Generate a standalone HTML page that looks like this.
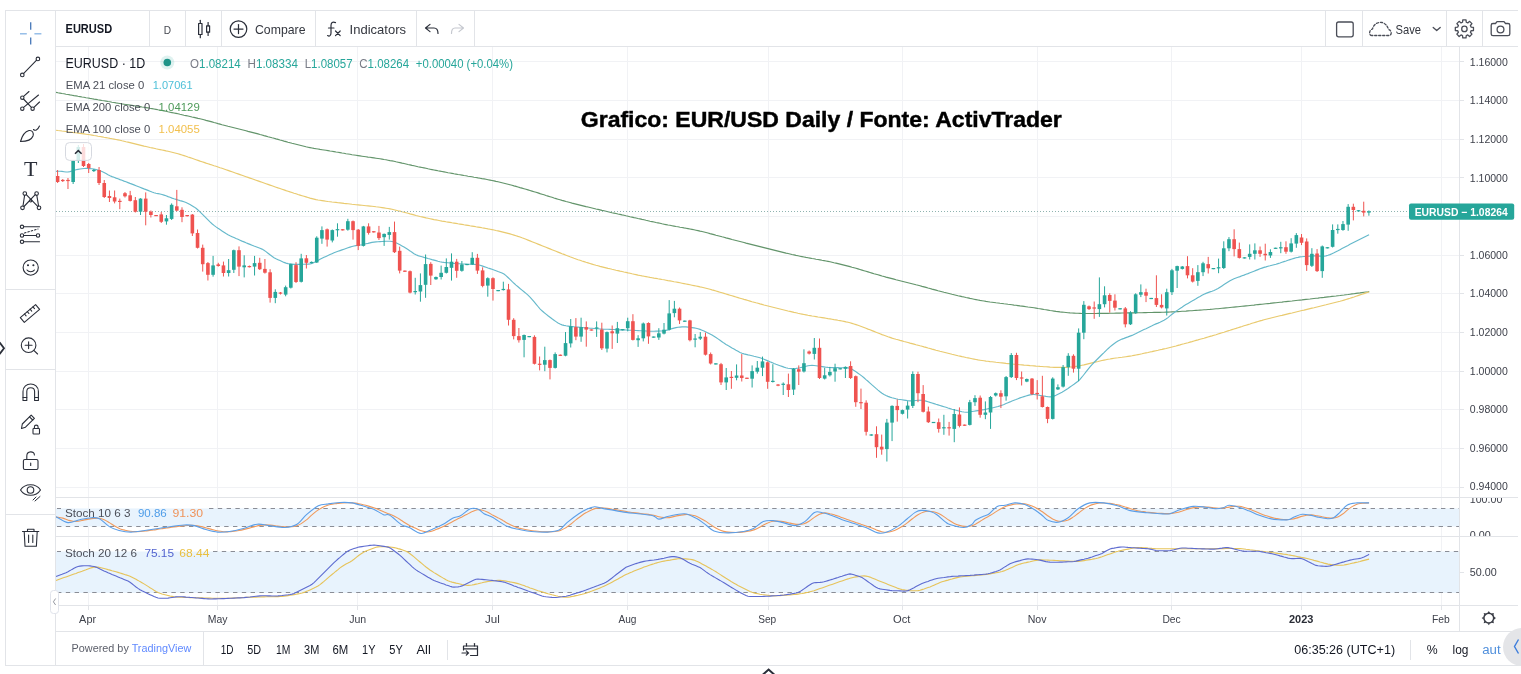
<!DOCTYPE html><html><head><meta charset="utf-8"><title>EURUSD chart</title>
<style>html,body{margin:0;padding:0;background:#fff;overflow:hidden;width:1521px;height:674px}svg{display:block}text{font-variant-ligatures:none;font-family:'Liberation Sans', Arial, sans-serif}</style></head><body>
<svg width="1521" height="674" viewBox="0 0 1521 674">
<rect x="0" y="0" width="1521" height="674" fill="#fff"/>
<g stroke="#f1f2f5" stroke-width="1">
<line x1="56" y1="61.5" x2="1459" y2="61.5"/>
<line x1="56" y1="100.5" x2="1459" y2="100.5"/>
<line x1="56" y1="139.5" x2="1459" y2="139.5"/>
<line x1="56" y1="177.5" x2="1459" y2="177.5"/>
<line x1="56" y1="216.5" x2="1459" y2="216.5"/>
<line x1="56" y1="255.5" x2="1459" y2="255.5"/>
<line x1="56" y1="293.5" x2="1459" y2="293.5"/>
<line x1="56" y1="332.5" x2="1459" y2="332.5"/>
<line x1="56" y1="371.5" x2="1459" y2="371.5"/>
<line x1="56" y1="409.5" x2="1459" y2="409.5"/>
<line x1="56" y1="448.5" x2="1459" y2="448.5"/>
<line x1="56" y1="487.5" x2="1459" y2="487.5"/>
<line x1="88.5" y1="47" x2="88.5" y2="605"/>
<line x1="217.5" y1="47" x2="217.5" y2="605"/>
<line x1="357.5" y1="47" x2="357.5" y2="605"/>
<line x1="492.5" y1="47" x2="492.5" y2="605"/>
<line x1="627.5" y1="47" x2="627.5" y2="605"/>
<line x1="768.5" y1="47" x2="768.5" y2="605"/>
<line x1="902.5" y1="47" x2="902.5" y2="605"/>
<line x1="1037.5" y1="47" x2="1037.5" y2="605"/>
<line x1="1171.5" y1="47" x2="1171.5" y2="605"/>
<line x1="1301.5" y1="47" x2="1301.5" y2="605"/>
<line x1="1441.5" y1="47" x2="1441.5" y2="605"/>
</g>
<rect x="56" y="508.4" width="1403" height="18.1" fill="#e8f3fd"/>
<rect x="56" y="551.5" width="1403" height="41.4" fill="#e8f3fd"/>
<g stroke="#8a8d96" stroke-width="1" stroke-dasharray="4.4,4.4">
<line x1="57" y1="508.5" x2="61" y2="508.5"/><line x1="209" y1="508.5" x2="1459" y2="508.5"/>
<line x1="57" y1="551.5" x2="61" y2="551.5"/><line x1="213" y1="551.5" x2="1459" y2="551.5"/>
<line x1="57" y1="526.5" x2="1459" y2="526.5"/>
<line x1="57" y1="592.5" x2="1459" y2="592.5"/>
</g>
<polyline points="56.0,92.4 58.0,92.8 60.0,93.1 62.0,93.5 64.0,93.8 66.0,94.2 68.0,94.5 70.0,94.9 72.0,95.2 74.0,95.6 76.0,95.9 78.0,96.3 80.0,96.6 82.0,97.0 84.0,97.3 86.0,97.7 88.0,98.0 90.0,98.4 92.0,98.7 94.0,99.1 96.0,99.4 98.0,99.8 100.0,100.1 102.0,100.5 104.0,100.8 106.0,101.1 108.0,101.5 110.0,101.8 112.0,102.2 114.0,102.5 116.0,102.9 118.0,103.2 120.0,103.5 122.0,103.9 124.0,104.2 126.0,104.5 128.0,104.8 130.0,105.1 132.0,105.4 134.0,105.7 136.0,106.0 138.0,106.3 140.0,106.6 142.0,107.0 144.0,107.3 146.0,107.6 148.0,107.9 150.0,108.3 152.0,108.6 154.0,109.0 156.0,109.4 158.0,109.8 160.0,110.1 162.0,110.5 164.0,110.9 166.0,111.3 168.0,111.8 170.0,112.2 172.0,112.6 174.0,113.0 176.0,113.4 178.0,113.8 180.0,114.3 182.0,114.7 184.0,115.2 186.0,115.6 188.0,116.0 190.0,116.5 192.0,117.0 194.0,117.4 196.0,117.9 198.0,118.4 200.0,118.8 202.0,119.3 204.0,119.8 206.0,120.4 208.0,120.9 210.0,121.4 212.0,121.9 214.0,122.5 216.0,123.0 218.0,123.6 220.0,124.1 222.0,124.7 224.0,125.2 226.0,125.7 228.0,126.3 230.0,126.8 232.0,127.3 234.0,127.8 236.0,128.3 238.0,128.8 240.0,129.3 242.0,129.8 244.0,130.3 246.0,130.8 248.0,131.4 250.0,131.9 252.0,132.4 254.0,132.9 256.0,133.4 258.0,133.9 260.0,134.5 262.0,135.0 264.0,135.6 266.0,136.1 268.0,136.7 270.0,137.2 272.0,137.8 274.0,138.3 276.0,138.9 278.0,139.4 280.0,140.0 282.0,140.5 284.0,141.1 286.0,141.6 288.0,142.2 290.0,142.7 292.0,143.3 294.0,143.8 296.0,144.3 298.0,144.8 300.0,145.3 302.0,145.8 304.0,146.3 306.0,146.8 308.0,147.2 310.0,147.6 312.0,148.0 314.0,148.4 316.0,148.7 318.0,149.0 320.0,149.4 322.0,149.7 324.0,150.0 326.0,150.3 328.0,150.6 330.0,151.0 332.0,151.3 334.0,151.6 336.0,152.0 338.0,152.3 340.0,152.6 342.0,153.0 344.0,153.3 346.0,153.7 348.0,154.0 350.0,154.3 352.0,154.7 354.0,155.0 356.0,155.3 358.0,155.6 360.0,155.9 362.0,156.2 364.0,156.5 366.0,156.8 368.0,157.1 370.0,157.3 372.0,157.6 374.0,157.9 376.0,158.2 378.0,158.5 380.0,158.8 382.0,159.1 384.0,159.5 386.0,159.8 388.0,160.2 390.0,160.6 392.0,160.9 394.0,161.3 396.0,161.8 398.0,162.2 400.0,162.6 402.0,163.1 404.0,163.5 406.0,164.0 408.0,164.5 410.0,164.9 412.0,165.4 414.0,165.8 416.0,166.2 418.0,166.7 420.0,167.1 422.0,167.5 424.0,167.9 426.0,168.3 428.0,168.8 430.0,169.2 432.0,169.6 434.0,170.0 436.0,170.4 438.0,170.8 440.0,171.1 442.0,171.5 444.0,171.9 446.0,172.3 448.0,172.7 450.0,173.0 452.0,173.4 454.0,173.8 456.0,174.1 458.0,174.5 460.0,174.8 462.0,175.1 464.0,175.5 466.0,175.8 468.0,176.2 470.0,176.5 472.0,176.8 474.0,177.2 476.0,177.5 478.0,177.9 480.0,178.2 482.0,178.6 484.0,178.9 486.0,179.3 488.0,179.7 490.0,180.1 492.0,180.5 494.0,180.9 496.0,181.4 498.0,181.8 500.0,182.3 502.0,182.8 504.0,183.3 506.0,183.8 508.0,184.3 510.0,184.8 512.0,185.3 514.0,185.9 516.0,186.4 518.0,187.0 520.0,187.6 522.0,188.1 524.0,188.7 526.0,189.3 528.0,189.9 530.0,190.5 532.0,191.1 534.0,191.7 536.0,192.3 538.0,192.9 540.0,193.6 542.0,194.2 544.0,194.8 546.0,195.5 548.0,196.1 550.0,196.7 552.0,197.3 554.0,198.0 556.0,198.6 558.0,199.2 560.0,199.8 562.0,200.4 564.0,200.9 566.0,201.5 568.0,202.0 570.0,202.5 572.0,203.1 574.0,203.6 576.0,204.1 578.0,204.6 580.0,205.1 582.0,205.6 584.0,206.1 586.0,206.6 588.0,207.0 590.0,207.5 592.0,208.0 594.0,208.5 596.0,209.0 598.0,209.4 600.0,209.9 602.0,210.4 604.0,210.8 606.0,211.3 608.0,211.8 610.0,212.2 612.0,212.7 614.0,213.1 616.0,213.5 618.0,214.0 620.0,214.4 622.0,214.9 624.0,215.3 626.0,215.8 628.0,216.2 630.0,216.7 632.0,217.1 634.0,217.6 636.0,218.0 638.0,218.5 640.0,218.9 642.0,219.4 644.0,219.8 646.0,220.3 648.0,220.7 650.0,221.2 652.0,221.6 654.0,222.0 656.0,222.5 658.0,222.9 660.0,223.3 662.0,223.8 664.0,224.2 666.0,224.6 668.0,225.0 670.0,225.3 672.0,225.7 674.0,226.1 676.0,226.5 678.0,226.8 680.0,227.2 682.0,227.5 684.0,227.9 686.0,228.2 688.0,228.6 690.0,229.0 692.0,229.4 694.0,229.8 696.0,230.2 698.0,230.6 700.0,231.1 702.0,231.5 704.0,232.0 706.0,232.5 708.0,233.0 710.0,233.6 712.0,234.1 714.0,234.6 716.0,235.2 718.0,235.7 720.0,236.2 722.0,236.8 724.0,237.3 726.0,237.9 728.0,238.4 730.0,238.9 732.0,239.5 734.0,240.0 736.0,240.5 738.0,241.0 740.0,241.5 742.0,242.0 744.0,242.5 746.0,243.1 748.0,243.6 750.0,244.1 752.0,244.6 754.0,245.1 756.0,245.6 758.0,246.1 760.0,246.6 762.0,247.1 764.0,247.6 766.0,248.1 768.0,248.6 770.0,249.1 772.0,249.6 774.0,250.1 776.0,250.6 778.0,251.1 780.0,251.6 782.0,252.1 784.0,252.6 786.0,253.1 788.0,253.5 790.0,254.0 792.0,254.5 794.0,254.9 796.0,255.4 798.0,255.8 800.0,256.2 802.0,256.6 804.0,257.0 806.0,257.4 808.0,257.7 810.0,258.1 812.0,258.5 814.0,258.8 816.0,259.2 818.0,259.5 820.0,259.9 822.0,260.3 824.0,260.6 826.0,261.0 828.0,261.4 830.0,261.8 832.0,262.2 834.0,262.7 836.0,263.1 838.0,263.6 840.0,264.1 842.0,264.6 844.0,265.1 846.0,265.6 848.0,266.1 850.0,266.6 852.0,267.2 854.0,267.7 856.0,268.3 858.0,268.9 860.0,269.5 862.0,270.1 864.0,270.7 866.0,271.3 868.0,271.9 870.0,272.5 872.0,273.1 874.0,273.7 876.0,274.2 878.0,274.8 880.0,275.4 882.0,276.0 884.0,276.5 886.0,277.1 888.0,277.6 890.0,278.1 892.0,278.6 894.0,279.1 896.0,279.7 898.0,280.2 900.0,280.7 902.0,281.2 904.0,281.7 906.0,282.2 908.0,282.7 910.0,283.2 912.0,283.7 914.0,284.2 916.0,284.8 918.0,285.3 920.0,285.8 922.0,286.4 924.0,286.9 926.0,287.4 928.0,288.0 930.0,288.5 932.0,289.1 934.0,289.6 936.0,290.1 938.0,290.7 940.0,291.2 942.0,291.7 944.0,292.3 946.0,292.8 948.0,293.3 950.0,293.8 952.0,294.3 954.0,294.7 956.0,295.2 958.0,295.7 960.0,296.1 962.0,296.6 964.0,297.0 966.0,297.5 968.0,297.9 970.0,298.4 972.0,298.8 974.0,299.2 976.0,299.6 978.0,300.0 980.0,300.4 982.0,300.7 984.0,301.0 986.0,301.4 988.0,301.7 990.0,302.0 992.0,302.2 994.0,302.5 996.0,302.8 998.0,303.0 1000.0,303.3 1002.0,303.5 1004.0,303.8 1006.0,304.0 1008.0,304.3 1010.0,304.5 1012.0,304.8 1014.0,305.1 1016.0,305.3 1018.0,305.6 1020.0,305.9 1022.0,306.1 1024.0,306.4 1026.0,306.7 1028.0,307.0 1030.0,307.2 1032.0,307.5 1034.0,307.8 1036.0,308.1 1038.0,308.5 1040.0,308.8 1042.0,309.1 1044.0,309.5 1046.0,309.8 1048.0,310.1 1050.0,310.5 1052.0,310.8 1054.0,311.1 1056.0,311.4 1058.0,311.6 1060.0,311.9 1062.0,312.1 1064.0,312.3 1066.0,312.5 1068.0,312.7 1070.0,312.9 1072.0,313.0 1074.0,313.1 1076.0,313.2 1078.0,313.3 1080.0,313.4 1082.0,313.5 1084.0,313.5 1086.0,313.5 1088.0,313.5 1090.0,313.5 1092.0,313.5 1094.0,313.5 1096.0,313.5 1098.0,313.4 1100.0,313.4 1102.0,313.4 1104.0,313.3 1106.0,313.3 1108.0,313.3 1110.0,313.2 1112.0,313.2 1114.0,313.2 1116.0,313.1 1118.0,313.1 1120.0,313.1 1122.0,313.0 1124.0,313.0 1126.0,313.0 1128.0,312.9 1130.0,312.9 1132.0,312.9 1134.0,312.8 1136.0,312.8 1138.0,312.7 1140.0,312.7 1142.0,312.7 1144.0,312.6 1146.0,312.6 1148.0,312.5 1150.0,312.5 1152.0,312.5 1154.0,312.4 1156.0,312.4 1158.0,312.3 1160.0,312.3 1162.0,312.2 1164.0,312.2 1166.0,312.1 1168.0,312.1 1170.0,312.0 1172.0,311.9 1174.0,311.8 1176.0,311.7 1178.0,311.6 1180.0,311.5 1182.0,311.3 1184.0,311.2 1186.0,311.1 1188.0,310.9 1190.0,310.8 1192.0,310.7 1194.0,310.5 1196.0,310.4 1198.0,310.3 1200.0,310.1 1202.0,310.0 1204.0,309.8 1206.0,309.7 1208.0,309.5 1210.0,309.4 1212.0,309.2 1214.0,309.0 1216.0,308.8 1218.0,308.7 1220.0,308.5 1222.0,308.3 1224.0,308.1 1226.0,307.9 1228.0,307.7 1230.0,307.5 1232.0,307.3 1234.0,307.1 1236.0,306.9 1238.0,306.7 1240.0,306.5 1242.0,306.3 1244.0,306.1 1246.0,305.9 1248.0,305.7 1250.0,305.5 1252.0,305.3 1254.0,305.1 1256.0,304.8 1258.0,304.6 1260.0,304.4 1262.0,304.2 1264.0,304.0 1266.0,303.8 1268.0,303.6 1270.0,303.4 1272.0,303.1 1274.0,302.9 1276.0,302.7 1278.0,302.5 1280.0,302.3 1282.0,302.1 1284.0,301.8 1286.0,301.6 1288.0,301.4 1290.0,301.2 1292.0,301.0 1294.0,300.7 1296.0,300.5 1298.0,300.3 1300.0,300.1 1302.0,299.9 1304.0,299.6 1306.0,299.4 1308.0,299.2 1310.0,299.0 1312.0,298.7 1314.0,298.5 1316.0,298.3 1318.0,298.1 1320.0,297.8 1322.0,297.6 1324.0,297.4 1326.0,297.1 1328.0,296.9 1330.0,296.7 1332.0,296.4 1334.0,296.2 1336.0,296.0 1338.0,295.7 1340.0,295.5 1342.0,295.2 1344.0,295.0 1346.0,294.7 1348.0,294.5 1350.0,294.2 1352.0,293.9 1354.0,293.7 1356.0,293.4 1358.0,293.1 1360.0,292.9 1362.0,292.6 1364.0,292.3 1366.0,292.0 1368.0,291.8 1369.2,291.6" fill="none" stroke="#62946a" stroke-width="1.15"/>
<polyline points="56.0,130.2 58.0,130.5 60.0,130.7 62.0,131.0 64.0,131.2 66.0,131.5 68.0,131.8 70.0,132.0 72.0,132.3 74.0,132.6 76.0,132.8 78.0,133.1 80.0,133.4 82.0,133.6 84.0,133.9 86.0,134.2 88.0,134.5 90.0,134.8 92.0,135.1 94.0,135.5 96.0,135.8 98.0,136.2 100.0,136.5 102.0,136.9 104.0,137.3 106.0,137.6 108.0,138.0 110.0,138.4 112.0,138.7 114.0,139.1 116.0,139.5 118.0,139.9 120.0,140.3 122.0,140.8 124.0,141.2 126.0,141.7 128.0,142.1 130.0,142.6 132.0,143.1 134.0,143.6 136.0,144.1 138.0,144.6 140.0,145.1 142.0,145.6 144.0,146.1 146.0,146.5 148.0,147.0 150.0,147.5 152.0,147.9 154.0,148.3 156.0,148.8 158.0,149.2 160.0,149.6 162.0,150.0 164.0,150.4 166.0,150.9 168.0,151.3 170.0,151.7 172.0,152.2 174.0,152.7 176.0,153.2 178.0,153.8 180.0,154.4 182.0,155.0 184.0,155.6 186.0,156.3 188.0,157.0 190.0,157.6 192.0,158.3 194.0,159.0 196.0,159.7 198.0,160.4 200.0,161.1 202.0,161.7 204.0,162.4 206.0,163.1 208.0,163.7 210.0,164.4 212.0,165.0 214.0,165.7 216.0,166.3 218.0,167.0 220.0,167.7 222.0,168.3 224.0,169.0 226.0,169.7 228.0,170.4 230.0,171.1 232.0,171.8 234.0,172.5 236.0,173.2 238.0,173.9 240.0,174.6 242.0,175.3 244.0,176.0 246.0,176.7 248.0,177.4 250.0,178.1 252.0,178.8 254.0,179.5 256.0,180.2 258.0,180.9 260.0,181.6 262.0,182.3 264.0,183.0 266.0,183.7 268.0,184.4 270.0,185.1 272.0,185.8 274.0,186.5 276.0,187.2 278.0,187.9 280.0,188.5 282.0,189.2 284.0,189.9 286.0,190.6 288.0,191.2 290.0,191.9 292.0,192.5 294.0,193.2 296.0,193.8 298.0,194.5 300.0,195.1 302.0,195.7 304.0,196.3 306.0,196.9 308.0,197.5 310.0,198.1 312.0,198.6 314.0,199.1 316.0,199.6 318.0,200.0 320.0,200.3 322.0,200.6 324.0,200.9 326.0,201.2 328.0,201.5 330.0,201.7 332.0,202.0 334.0,202.2 336.0,202.4 338.0,202.7 340.0,202.9 342.0,203.1 344.0,203.4 346.0,203.6 348.0,203.8 350.0,204.0 352.0,204.3 354.0,204.5 356.0,204.7 358.0,204.9 360.0,205.1 362.0,205.3 364.0,205.5 366.0,205.7 368.0,205.9 370.0,206.1 372.0,206.3 374.0,206.5 376.0,206.8 378.0,207.0 380.0,207.3 382.0,207.6 384.0,207.9 386.0,208.2 388.0,208.5 390.0,208.9 392.0,209.3 394.0,209.7 396.0,210.2 398.0,210.7 400.0,211.1 402.0,211.7 404.0,212.2 406.0,212.7 408.0,213.3 410.0,213.9 412.0,214.4 414.0,214.9 416.0,215.5 418.0,216.0 420.0,216.5 422.0,216.9 424.0,217.4 426.0,217.9 428.0,218.3 430.0,218.7 432.0,219.1 434.0,219.6 436.0,219.9 438.0,220.3 440.0,220.7 442.0,221.1 444.0,221.4 446.0,221.8 448.0,222.1 450.0,222.4 452.0,222.8 454.0,223.1 456.0,223.4 458.0,223.8 460.0,224.1 462.0,224.4 464.0,224.8 466.0,225.1 468.0,225.4 470.0,225.8 472.0,226.1 474.0,226.4 476.0,226.8 478.0,227.1 480.0,227.4 482.0,227.8 484.0,228.1 486.0,228.5 488.0,228.9 490.0,229.2 492.0,229.6 494.0,230.0 496.0,230.5 498.0,230.9 500.0,231.4 502.0,231.9 504.0,232.4 506.0,232.9 508.0,233.4 510.0,233.9 512.0,234.5 514.0,235.1 516.0,235.7 518.0,236.4 520.0,237.0 522.0,237.8 524.0,238.5 526.0,239.3 528.0,240.1 530.0,240.9 532.0,241.7 534.0,242.5 536.0,243.3 538.0,244.1 540.0,244.9 542.0,245.7 544.0,246.5 546.0,247.3 548.0,248.1 550.0,248.9 552.0,249.7 554.0,250.5 556.0,251.3 558.0,252.1 560.0,252.9 562.0,253.7 564.0,254.4 566.0,255.2 568.0,256.0 570.0,256.8 572.0,257.5 574.0,258.3 576.0,259.0 578.0,259.7 580.0,260.3 582.0,261.0 584.0,261.6 586.0,262.3 588.0,262.9 590.0,263.5 592.0,264.1 594.0,264.7 596.0,265.3 598.0,265.8 600.0,266.4 602.0,266.9 604.0,267.4 606.0,267.9 608.0,268.4 610.0,268.8 612.0,269.3 614.0,269.7 616.0,270.2 618.0,270.6 620.0,271.1 622.0,271.5 624.0,272.0 626.0,272.4 628.0,272.9 630.0,273.3 632.0,273.8 634.0,274.2 636.0,274.6 638.0,275.1 640.0,275.5 642.0,275.9 644.0,276.2 646.0,276.6 648.0,277.0 650.0,277.4 652.0,277.7 654.0,278.1 656.0,278.4 658.0,278.8 660.0,279.1 662.0,279.5 664.0,279.8 666.0,280.2 668.0,280.6 670.0,280.9 672.0,281.3 674.0,281.7 676.0,282.0 678.0,282.4 680.0,282.8 682.0,283.2 684.0,283.6 686.0,284.0 688.0,284.4 690.0,284.8 692.0,285.2 694.0,285.6 696.0,286.0 698.0,286.4 700.0,286.9 702.0,287.3 704.0,287.8 706.0,288.3 708.0,288.8 710.0,289.3 712.0,289.9 714.0,290.4 716.0,291.0 718.0,291.6 720.0,292.2 722.0,292.8 724.0,293.4 726.0,294.0 728.0,294.6 730.0,295.2 732.0,295.8 734.0,296.4 736.0,297.0 738.0,297.6 740.0,298.2 742.0,298.8 744.0,299.4 746.0,299.9 748.0,300.5 750.0,301.1 752.0,301.7 754.0,302.2 756.0,302.8 758.0,303.3 760.0,303.9 762.0,304.4 764.0,305.0 766.0,305.5 768.0,306.0 770.0,306.5 772.0,307.0 774.0,307.5 776.0,308.0 778.0,308.5 780.0,309.0 782.0,309.5 784.0,310.0 786.0,310.5 788.0,311.0 790.0,311.4 792.0,311.9 794.0,312.4 796.0,312.8 798.0,313.3 800.0,313.7 802.0,314.1 804.0,314.5 806.0,314.9 808.0,315.3 810.0,315.6 812.0,316.0 814.0,316.3 816.0,316.6 818.0,317.0 820.0,317.3 822.0,317.6 824.0,317.9 826.0,318.2 828.0,318.6 830.0,318.9 832.0,319.2 834.0,319.6 836.0,319.9 838.0,320.3 840.0,320.6 842.0,321.0 844.0,321.4 846.0,321.9 848.0,322.3 850.0,322.8 852.0,323.4 854.0,324.0 856.0,324.6 858.0,325.3 860.0,326.0 862.0,326.7 864.0,327.5 866.0,328.3 868.0,329.1 870.0,329.8 872.0,330.6 874.0,331.4 876.0,332.2 878.0,333.0 880.0,333.8 882.0,334.6 884.0,335.3 886.0,336.0 888.0,336.8 890.0,337.4 892.0,338.1 894.0,338.7 896.0,339.3 898.0,339.8 900.0,340.4 902.0,340.9 904.0,341.5 906.0,342.0 908.0,342.5 910.0,343.1 912.0,343.6 914.0,344.1 916.0,344.7 918.0,345.2 920.0,345.8 922.0,346.3 924.0,346.9 926.0,347.4 928.0,348.0 930.0,348.5 932.0,349.1 934.0,349.6 936.0,350.2 938.0,350.7 940.0,351.3 942.0,351.8 944.0,352.3 946.0,352.8 948.0,353.3 950.0,353.8 952.0,354.3 954.0,354.7 956.0,355.2 958.0,355.7 960.0,356.1 962.0,356.6 964.0,357.0 966.0,357.5 968.0,357.9 970.0,358.3 972.0,358.7 974.0,359.1 976.0,359.5 978.0,359.9 980.0,360.2 982.0,360.5 984.0,360.8 986.0,361.1 988.0,361.3 990.0,361.6 992.0,361.8 994.0,362.0 996.0,362.3 998.0,362.5 1000.0,362.7 1002.0,362.9 1004.0,363.1 1006.0,363.4 1008.0,363.6 1010.0,363.8 1012.0,364.0 1014.0,364.2 1016.0,364.4 1018.0,364.5 1020.0,364.7 1022.0,364.9 1024.0,365.1 1026.0,365.2 1028.0,365.4 1030.0,365.6 1032.0,365.7 1034.0,365.9 1036.0,366.1 1038.0,366.2 1040.0,366.4 1042.0,366.5 1044.0,366.7 1046.0,366.8 1048.0,366.9 1050.0,367.1 1052.0,367.2 1054.0,367.3 1056.0,367.3 1058.0,367.4 1060.0,367.4 1062.0,367.4 1064.0,367.3 1066.0,367.3 1068.0,367.2 1070.0,367.0 1072.0,366.9 1074.0,366.7 1076.0,366.4 1078.0,366.1 1080.0,365.7 1082.0,365.3 1084.0,364.9 1086.0,364.4 1088.0,363.9 1090.0,363.4 1092.0,362.9 1094.0,362.4 1096.0,361.9 1098.0,361.5 1100.0,361.0 1102.0,360.5 1104.0,360.1 1106.0,359.7 1108.0,359.3 1110.0,359.0 1112.0,358.6 1114.0,358.3 1116.0,358.0 1118.0,357.8 1120.0,357.5 1122.0,357.3 1124.0,357.0 1126.0,356.7 1128.0,356.4 1130.0,356.1 1132.0,355.8 1134.0,355.4 1136.0,355.0 1138.0,354.6 1140.0,354.2 1142.0,353.8 1144.0,353.3 1146.0,352.9 1148.0,352.5 1150.0,352.0 1152.0,351.6 1154.0,351.1 1156.0,350.7 1158.0,350.3 1160.0,349.8 1162.0,349.4 1164.0,348.9 1166.0,348.5 1168.0,348.0 1170.0,347.5 1172.0,347.0 1174.0,346.5 1176.0,346.0 1178.0,345.4 1180.0,344.9 1182.0,344.3 1184.0,343.8 1186.0,343.2 1188.0,342.7 1190.0,342.1 1192.0,341.6 1194.0,341.0 1196.0,340.4 1198.0,339.9 1200.0,339.3 1202.0,338.7 1204.0,338.2 1206.0,337.6 1208.0,337.0 1210.0,336.4 1212.0,335.9 1214.0,335.3 1216.0,334.7 1218.0,334.0 1220.0,333.4 1222.0,332.8 1224.0,332.2 1226.0,331.5 1228.0,330.9 1230.0,330.3 1232.0,329.6 1234.0,329.0 1236.0,328.4 1238.0,327.7 1240.0,327.1 1242.0,326.5 1244.0,325.8 1246.0,325.2 1248.0,324.6 1250.0,324.0 1252.0,323.3 1254.0,322.7 1256.0,322.1 1258.0,321.5 1260.0,320.9 1262.0,320.4 1264.0,319.8 1266.0,319.3 1268.0,318.8 1270.0,318.3 1272.0,317.8 1274.0,317.3 1276.0,316.8 1278.0,316.3 1280.0,315.8 1282.0,315.4 1284.0,314.9 1286.0,314.4 1288.0,313.9 1290.0,313.4 1292.0,313.0 1294.0,312.5 1296.0,312.0 1298.0,311.5 1300.0,311.0 1302.0,310.5 1304.0,310.1 1306.0,309.6 1308.0,309.1 1310.0,308.6 1312.0,308.1 1314.0,307.7 1316.0,307.2 1318.0,306.7 1320.0,306.2 1322.0,305.7 1324.0,305.2 1326.0,304.8 1328.0,304.3 1330.0,303.8 1332.0,303.3 1334.0,302.8 1336.0,302.3 1338.0,301.8 1340.0,301.3 1342.0,300.7 1344.0,300.1 1346.0,299.5 1348.0,298.9 1350.0,298.3 1352.0,297.6 1354.0,297.0 1356.0,296.3 1358.0,295.6 1360.0,294.9 1362.0,294.3 1364.0,293.6 1366.0,292.9 1368.0,292.2 1369.2,291.8" fill="none" stroke="#e9ca6e" stroke-width="1.15"/>
<polyline points="56.0,171.4 58.0,171.2 60.0,171.2 62.0,171.4 64.0,171.7 66.0,172.0 68.0,172.0 70.0,171.6 72.0,171.0 74.0,170.4 76.0,169.8 78.0,169.4 80.0,169.0 82.0,168.7 84.0,168.5 86.0,168.4 88.0,168.5 90.0,168.6 92.0,168.8 94.0,169.1 96.0,169.5 98.0,170.1 100.0,170.7 102.0,171.5 104.0,172.4 106.0,173.5 108.0,174.7 110.0,175.7 112.0,176.6 114.0,177.3 116.0,178.1 118.0,178.8 120.0,179.6 122.0,180.3 124.0,181.1 126.0,181.8 128.0,182.6 130.0,183.4 132.0,184.1 134.0,184.9 136.0,185.7 138.0,186.5 140.0,187.3 142.0,188.1 144.0,188.9 146.0,189.6 148.0,190.4 150.0,191.2 152.0,192.0 154.0,192.7 156.0,193.2 158.0,193.6 160.0,194.0 162.0,194.5 164.0,195.1 166.0,195.8 168.0,196.6 170.0,197.3 172.0,198.1 174.0,198.8 176.0,199.4 178.0,200.0 180.0,200.6 182.0,201.1 184.0,201.8 186.0,202.5 188.0,203.4 190.0,204.5 192.0,205.7 194.0,206.9 196.0,208.3 198.0,210.0 200.0,211.9 202.0,213.9 204.0,215.9 206.0,217.9 208.0,219.9 210.0,221.9 212.0,223.7 214.0,225.4 216.0,226.9 218.0,228.3 220.0,229.6 222.0,230.9 224.0,232.2 226.0,233.5 228.0,234.7 230.0,235.8 232.0,236.7 234.0,237.6 236.0,238.5 238.0,239.3 240.0,240.2 242.0,241.1 244.0,241.9 246.0,242.8 248.0,243.6 250.0,244.4 252.0,245.2 254.0,246.0 256.0,246.7 258.0,247.5 260.0,248.3 262.0,249.1 264.0,250.2 266.0,251.6 268.0,253.2 270.0,254.8 272.0,256.3 274.0,257.7 276.0,258.8 278.0,259.7 280.0,260.6 282.0,261.5 284.0,262.4 286.0,263.1 288.0,263.6 290.0,263.9 292.0,264.1 294.0,264.3 296.0,264.3 298.0,264.3 300.0,264.3 302.0,264.2 304.0,264.2 306.0,264.1 308.0,264.1 310.0,263.9 312.0,263.5 314.0,262.6 316.0,261.5 318.0,260.4 320.0,259.3 322.0,258.3 324.0,257.3 326.0,256.4 328.0,255.5 330.0,254.6 332.0,253.7 334.0,252.8 336.0,252.0 338.0,251.3 340.0,250.6 342.0,249.9 344.0,249.2 346.0,248.5 348.0,247.8 350.0,247.1 352.0,246.5 354.0,246.0 356.0,245.6 358.0,245.3 360.0,245.0 362.0,244.7 364.0,244.3 366.0,243.8 368.0,243.4 370.0,242.9 372.0,242.4 374.0,242.1 376.0,241.9 378.0,241.7 380.0,241.6 382.0,241.5 384.0,241.4 386.0,241.3 388.0,241.2 390.0,241.2 392.0,241.5 394.0,242.0 396.0,242.7 398.0,243.7 400.0,244.8 402.0,245.9 404.0,247.1 406.0,248.3 408.0,249.6 410.0,250.9 412.0,252.3 414.0,253.7 416.0,254.8 418.0,255.6 420.0,256.2 422.0,256.8 424.0,257.4 426.0,257.9 428.0,258.5 430.0,259.0 432.0,259.6 434.0,260.1 436.0,260.6 438.0,261.2 440.0,261.7 442.0,262.1 444.0,262.4 446.0,262.6 448.0,262.8 450.0,263.0 452.0,263.2 454.0,263.4 456.0,263.5 458.0,263.7 460.0,263.8 462.0,264.0 464.0,264.0 466.0,264.1 468.0,264.2 470.0,264.2 472.0,264.3 474.0,264.4 476.0,264.5 478.0,264.8 480.0,265.3 482.0,265.9 484.0,266.6 486.0,267.3 488.0,268.0 490.0,268.6 492.0,269.3 494.0,270.0 496.0,270.7 498.0,271.5 500.0,272.2 502.0,273.0 504.0,274.1 506.0,275.6 508.0,277.5 510.0,279.4 512.0,281.4 514.0,283.3 516.0,285.1 518.0,286.8 520.0,288.5 522.0,290.1 524.0,291.7 526.0,293.4 528.0,295.1 530.0,297.1 532.0,299.3 534.0,301.7 536.0,304.1 538.0,306.5 540.0,308.8 542.0,310.8 544.0,312.5 546.0,314.1 548.0,315.7 550.0,317.2 552.0,318.8 554.0,320.2 556.0,321.6 558.0,323.0 560.0,324.1 562.0,324.9 564.0,325.4 566.0,325.8 568.0,326.1 570.0,326.4 572.0,326.6 574.0,326.8 576.0,327.0 578.0,327.1 580.0,327.3 582.0,327.5 584.0,327.7 586.0,327.9 588.0,328.0 590.0,328.2 592.0,328.3 594.0,328.5 596.0,328.7 598.0,328.8 600.0,329.0 602.0,329.1 604.0,329.2 606.0,329.2 608.0,329.3 610.0,329.4 612.0,329.5 614.0,329.5 616.0,329.6 618.0,329.7 620.0,329.8 622.0,329.8 624.0,329.9 626.0,330.0 628.0,330.1 630.0,330.2 632.0,330.3 634.0,330.4 636.0,330.5 638.0,330.6 640.0,330.7 642.0,330.8 644.0,330.9 646.0,331.0 648.0,331.1 650.0,331.2 652.0,331.2 654.0,331.2 656.0,331.1 658.0,331.1 660.0,331.0 662.0,330.9 664.0,330.7 666.0,330.4 668.0,329.9 670.0,329.3 672.0,328.6 674.0,328.1 676.0,327.6 678.0,327.3 680.0,327.1 682.0,326.9 684.0,326.8 686.0,326.9 688.0,327.1 690.0,327.4 692.0,327.6 694.0,327.9 696.0,328.3 698.0,328.8 700.0,329.4 702.0,330.2 704.0,331.0 706.0,331.9 708.0,332.9 710.0,333.9 712.0,335.0 714.0,336.2 716.0,337.5 718.0,338.9 720.0,340.3 722.0,341.7 724.0,343.1 726.0,344.4 728.0,345.6 730.0,346.7 732.0,347.9 734.0,349.0 736.0,350.2 738.0,351.3 740.0,352.4 742.0,353.3 744.0,353.9 746.0,354.4 748.0,354.9 750.0,355.3 752.0,355.8 754.0,356.3 756.0,356.7 758.0,357.2 760.0,357.8 762.0,358.5 764.0,359.3 766.0,360.1 768.0,360.9 770.0,361.8 772.0,362.6 774.0,363.5 776.0,364.3 778.0,365.0 780.0,365.7 782.0,366.4 784.0,367.1 786.0,367.7 788.0,368.2 790.0,368.5 792.0,368.6 794.0,368.6 796.0,368.4 798.0,368.1 800.0,367.7 802.0,367.2 804.0,366.7 806.0,366.3 808.0,365.8 810.0,365.5 812.0,365.3 814.0,365.5 816.0,365.7 818.0,366.0 820.0,366.3 822.0,366.6 824.0,366.9 826.0,367.2 828.0,367.4 830.0,367.5 832.0,367.6 834.0,367.6 836.0,367.6 838.0,367.6 840.0,367.7 842.0,367.7 844.0,367.7 846.0,367.8 848.0,367.9 850.0,368.3 852.0,369.2 854.0,370.5 856.0,371.8 858.0,373.2 860.0,374.6 862.0,376.1 864.0,377.8 866.0,379.6 868.0,381.3 870.0,383.1 872.0,384.9 874.0,386.6 876.0,388.4 878.0,390.1 880.0,391.7 882.0,393.2 884.0,394.5 886.0,395.6 888.0,396.4 890.0,397.1 892.0,397.7 894.0,398.2 896.0,398.8 898.0,399.2 900.0,399.5 902.0,399.8 904.0,400.1 906.0,400.4 908.0,400.7 910.0,400.9 912.0,400.9 914.0,400.7 916.0,400.5 918.0,400.3 920.0,400.2 922.0,400.2 924.0,400.6 926.0,401.1 928.0,401.7 930.0,402.4 932.0,403.0 934.0,403.6 936.0,404.3 938.0,404.9 940.0,405.5 942.0,406.1 944.0,406.7 946.0,407.3 948.0,408.0 950.0,408.6 952.0,409.2 954.0,409.7 956.0,410.2 958.0,410.7 960.0,411.2 962.0,411.7 964.0,412.0 966.0,412.2 968.0,412.1 970.0,411.8 972.0,411.5 974.0,411.2 976.0,410.9 978.0,410.6 980.0,410.3 982.0,409.9 984.0,409.6 986.0,409.2 988.0,408.8 990.0,408.4 992.0,408.0 994.0,407.5 996.0,407.0 998.0,406.5 1000.0,405.9 1002.0,405.2 1004.0,404.5 1006.0,403.6 1008.0,402.7 1010.0,401.9 1012.0,401.0 1014.0,400.2 1016.0,399.5 1018.0,398.7 1020.0,397.9 1022.0,397.2 1024.0,396.6 1026.0,396.0 1028.0,395.4 1030.0,394.9 1032.0,394.5 1034.0,394.5 1036.0,394.7 1038.0,395.0 1040.0,395.4 1042.0,395.7 1044.0,396.0 1046.0,396.4 1048.0,396.7 1050.0,396.8 1052.0,396.7 1054.0,396.1 1056.0,395.2 1058.0,394.2 1060.0,393.2 1062.0,392.2 1064.0,391.1 1066.0,389.8 1068.0,388.5 1070.0,387.0 1072.0,385.6 1074.0,384.2 1076.0,382.7 1078.0,381.2 1080.0,379.3 1082.0,377.0 1084.0,374.5 1086.0,371.9 1088.0,369.3 1090.0,366.8 1092.0,364.6 1094.0,362.5 1096.0,360.5 1098.0,358.5 1100.0,356.5 1102.0,354.5 1104.0,352.6 1106.0,350.6 1108.0,348.7 1110.0,346.9 1112.0,345.2 1114.0,343.7 1116.0,342.3 1118.0,341.0 1120.0,340.0 1122.0,339.1 1124.0,338.4 1126.0,337.6 1128.0,336.9 1130.0,336.1 1132.0,335.4 1134.0,334.5 1136.0,333.6 1138.0,332.6 1140.0,331.6 1142.0,330.6 1144.0,329.6 1146.0,328.7 1148.0,327.7 1150.0,326.7 1152.0,325.8 1154.0,324.8 1156.0,323.9 1158.0,323.1 1160.0,322.2 1162.0,321.2 1164.0,320.2 1166.0,319.0 1168.0,317.6 1170.0,315.9 1172.0,314.3 1174.0,312.7 1176.0,311.3 1178.0,309.9 1180.0,308.5 1182.0,307.2 1184.0,305.8 1186.0,304.6 1188.0,303.4 1190.0,302.2 1192.0,301.1 1194.0,299.9 1196.0,298.8 1198.0,297.6 1200.0,296.5 1202.0,295.3 1204.0,294.3 1206.0,293.4 1208.0,292.6 1210.0,291.9 1212.0,291.3 1214.0,290.5 1216.0,289.6 1218.0,288.5 1220.0,287.2 1222.0,285.9 1224.0,284.6 1226.0,283.3 1228.0,282.0 1230.0,280.7 1232.0,279.7 1234.0,278.8 1236.0,278.0 1238.0,277.3 1240.0,276.6 1242.0,275.8 1244.0,275.1 1246.0,274.3 1248.0,273.6 1250.0,272.8 1252.0,272.0 1254.0,271.2 1256.0,270.4 1258.0,269.6 1260.0,268.8 1262.0,268.1 1264.0,267.4 1266.0,266.9 1268.0,266.3 1270.0,265.8 1272.0,265.2 1274.0,264.7 1276.0,264.2 1278.0,263.6 1280.0,263.0 1282.0,262.3 1284.0,261.6 1286.0,261.0 1288.0,260.3 1290.0,259.6 1292.0,259.0 1294.0,258.4 1296.0,257.8 1298.0,257.4 1300.0,256.9 1302.0,256.7 1304.0,256.5 1306.0,256.4 1308.0,256.2 1310.0,256.1 1312.0,256.0 1314.0,255.9 1316.0,255.9 1318.0,256.0 1320.0,256.1 1322.0,256.2 1324.0,256.2 1326.0,255.9 1328.0,255.3 1330.0,254.6 1332.0,253.7 1334.0,252.8 1336.0,251.8 1338.0,250.8 1340.0,249.7 1342.0,248.6 1344.0,247.5 1346.0,246.4 1348.0,245.4 1350.0,244.3 1352.0,243.3 1354.0,242.3 1356.0,241.3 1358.0,240.3 1360.0,239.3 1362.0,238.3 1364.0,237.3 1366.0,236.3 1368.0,235.3 1369.1,234.8" fill="none" stroke="#66b9cb" stroke-width="1.15"/>
<line x1="56" y1="211.5" x2="1459" y2="211.5" stroke="#8fb3b0" stroke-width="1" stroke-dasharray="1,2"/>
<g><line x1="57.60" y1="170.0" x2="57.60" y2="183.0" stroke="#ef5350" stroke-width="1"/>
<rect x="55.80" y="176.0" width="3.6" height="6.0" fill="#ef5350"/>
<line x1="62.78" y1="179.0" x2="62.78" y2="182.0" stroke="#ef5350" stroke-width="1"/>
<rect x="60.98" y="179.9" width="3.6" height="1.2" fill="#ef5350"/>
<line x1="67.97" y1="178.0" x2="67.97" y2="189.0" stroke="#ef5350" stroke-width="1"/>
<rect x="66.17" y="179.9" width="3.6" height="1.2" fill="#ef5350"/>
<line x1="73.15" y1="160.0" x2="73.15" y2="184.0" stroke="#26a69a" stroke-width="1"/>
<rect x="71.35" y="161.0" width="3.6" height="21.0" fill="#26a69a"/>
<line x1="78.33" y1="145.0" x2="78.33" y2="163.0" stroke="#26a69a" stroke-width="1"/>
<rect x="76.53" y="147.0" width="3.6" height="14.0" fill="#26a69a"/>
<line x1="83.52" y1="144.0" x2="83.52" y2="167.0" stroke="#ef5350" stroke-width="1"/>
<rect x="81.72" y="147.0" width="3.6" height="19.0" fill="#ef5350"/>
<line x1="88.70" y1="163.0" x2="88.70" y2="173.0" stroke="#ef5350" stroke-width="1"/>
<rect x="86.90" y="164.0" width="3.6" height="4.0" fill="#ef5350"/>
<line x1="93.88" y1="169.0" x2="93.88" y2="172.0" stroke="#26a69a" stroke-width="1"/>
<rect x="92.08" y="169.9" width="3.6" height="1.2" fill="#26a69a"/>
<line x1="99.06" y1="167.0" x2="99.06" y2="185.0" stroke="#ef5350" stroke-width="1"/>
<rect x="97.26" y="170.0" width="3.6" height="13.0" fill="#ef5350"/>
<line x1="104.25" y1="180.0" x2="104.25" y2="198.0" stroke="#ef5350" stroke-width="1"/>
<rect x="102.45" y="183.0" width="3.6" height="14.0" fill="#ef5350"/>
<line x1="109.43" y1="190.5" x2="109.43" y2="202.0" stroke="#ef5350" stroke-width="1"/>
<rect x="107.63" y="196.0" width="3.6" height="2.0" fill="#ef5350"/>
<line x1="114.61" y1="190.5" x2="114.61" y2="203.4" stroke="#ef5350" stroke-width="1"/>
<rect x="112.81" y="197.3" width="3.6" height="4.2" fill="#ef5350"/>
<line x1="119.80" y1="198.6" x2="119.80" y2="209.2" stroke="#ef5350" stroke-width="1"/>
<rect x="118.00" y="200.8" width="3.6" height="1.2" fill="#ef5350"/>
<line x1="124.98" y1="192.0" x2="124.98" y2="197.5" stroke="#ef5350" stroke-width="1"/>
<rect x="123.18" y="193.2" width="3.6" height="3.1" fill="#ef5350"/>
<line x1="130.16" y1="190.9" x2="130.16" y2="201.5" stroke="#ef5350" stroke-width="1"/>
<rect x="128.36" y="195.3" width="3.6" height="5.6" fill="#ef5350"/>
<line x1="135.34" y1="197.0" x2="135.34" y2="212.5" stroke="#ef5350" stroke-width="1"/>
<rect x="133.54" y="200.2" width="3.6" height="11.5" fill="#ef5350"/>
<line x1="140.53" y1="198.2" x2="140.53" y2="215.0" stroke="#26a69a" stroke-width="1"/>
<rect x="138.73" y="198.6" width="3.6" height="13.1" fill="#26a69a"/>
<line x1="145.71" y1="192.4" x2="145.71" y2="225.3" stroke="#ef5350" stroke-width="1"/>
<rect x="143.91" y="198.6" width="3.6" height="13.1" fill="#ef5350"/>
<line x1="150.89" y1="210.5" x2="150.89" y2="217.5" stroke="#ef5350" stroke-width="1"/>
<rect x="149.09" y="211.7" width="3.6" height="3.3" fill="#ef5350"/>
<line x1="156.08" y1="215.0" x2="156.08" y2="216.0" stroke="#ef5350" stroke-width="1"/>
<rect x="154.28" y="215.0" width="3.6" height="1.2" fill="#ef5350"/>
<line x1="161.26" y1="212.0" x2="161.26" y2="223.0" stroke="#ef5350" stroke-width="1"/>
<rect x="159.46" y="214.4" width="3.6" height="7.4" fill="#ef5350"/>
<line x1="166.44" y1="215.0" x2="166.44" y2="224.7" stroke="#26a69a" stroke-width="1"/>
<rect x="164.64" y="218.3" width="3.6" height="3.1" fill="#26a69a"/>
<line x1="171.63" y1="203.4" x2="171.63" y2="220.0" stroke="#26a69a" stroke-width="1"/>
<rect x="169.83" y="204.8" width="3.6" height="14.1" fill="#26a69a"/>
<line x1="176.81" y1="189.9" x2="176.81" y2="211.2" stroke="#ef5350" stroke-width="1"/>
<rect x="175.01" y="206.3" width="3.6" height="4.3" fill="#ef5350"/>
<line x1="181.99" y1="207.3" x2="181.99" y2="222.2" stroke="#ef5350" stroke-width="1"/>
<rect x="180.19" y="209.8" width="3.6" height="7.2" fill="#ef5350"/>
<line x1="187.17" y1="215.0" x2="187.17" y2="216.5" stroke="#ef5350" stroke-width="1"/>
<rect x="185.37" y="215.0" width="3.6" height="1.2" fill="#ef5350"/>
<line x1="192.36" y1="214.0" x2="192.36" y2="236.0" stroke="#ef5350" stroke-width="1"/>
<rect x="190.56" y="214.6" width="3.6" height="18.8" fill="#ef5350"/>
<line x1="197.54" y1="229.5" x2="197.54" y2="248.5" stroke="#ef5350" stroke-width="1"/>
<rect x="195.74" y="233.0" width="3.6" height="14.8" fill="#ef5350"/>
<line x1="202.72" y1="244.6" x2="202.72" y2="271.6" stroke="#ef5350" stroke-width="1"/>
<rect x="200.92" y="247.8" width="3.6" height="16.4" fill="#ef5350"/>
<line x1="207.91" y1="262.0" x2="207.91" y2="280.5" stroke="#ef5350" stroke-width="1"/>
<rect x="206.11" y="263.1" width="3.6" height="11.7" fill="#ef5350"/>
<line x1="213.09" y1="255.9" x2="213.09" y2="276.7" stroke="#26a69a" stroke-width="1"/>
<rect x="211.29" y="265.4" width="3.6" height="9.4" fill="#26a69a"/>
<line x1="218.27" y1="262.8" x2="218.27" y2="266.6" stroke="#ef5350" stroke-width="1"/>
<rect x="216.47" y="264.4" width="3.6" height="1.6" fill="#ef5350"/>
<line x1="223.46" y1="261.6" x2="223.46" y2="276.5" stroke="#ef5350" stroke-width="1"/>
<rect x="221.66" y="265.4" width="3.6" height="7.6" fill="#ef5350"/>
<line x1="228.64" y1="259.0" x2="228.64" y2="276.5" stroke="#26a69a" stroke-width="1"/>
<rect x="226.84" y="270.2" width="3.6" height="2.8" fill="#26a69a"/>
<line x1="233.82" y1="249.6" x2="233.82" y2="273.0" stroke="#26a69a" stroke-width="1"/>
<rect x="232.02" y="250.2" width="3.6" height="19.6" fill="#26a69a"/>
<line x1="239.00" y1="246.4" x2="239.00" y2="276.1" stroke="#ef5350" stroke-width="1"/>
<rect x="237.20" y="250.2" width="3.6" height="16.4" fill="#ef5350"/>
<line x1="244.19" y1="255.3" x2="244.19" y2="277.4" stroke="#26a69a" stroke-width="1"/>
<rect x="242.39" y="265.4" width="3.6" height="1.9" fill="#26a69a"/>
<line x1="249.37" y1="265.5" x2="249.37" y2="267.5" stroke="#ef5350" stroke-width="1"/>
<rect x="247.57" y="266.0" width="3.6" height="1.2" fill="#ef5350"/>
<line x1="254.55" y1="255.9" x2="254.55" y2="275.5" stroke="#26a69a" stroke-width="1"/>
<rect x="252.75" y="263.1" width="3.6" height="3.5" fill="#26a69a"/>
<line x1="259.74" y1="257.8" x2="259.74" y2="270.0" stroke="#ef5350" stroke-width="1"/>
<rect x="257.94" y="262.8" width="3.6" height="6.4" fill="#ef5350"/>
<line x1="264.92" y1="259.0" x2="264.92" y2="273.6" stroke="#ef5350" stroke-width="1"/>
<rect x="263.12" y="268.9" width="3.6" height="3.8" fill="#ef5350"/>
<line x1="270.10" y1="269.2" x2="270.10" y2="302.6" stroke="#ef5350" stroke-width="1"/>
<rect x="268.30" y="272.3" width="3.6" height="25.6" fill="#ef5350"/>
<line x1="275.29" y1="289.3" x2="275.29" y2="303.2" stroke="#26a69a" stroke-width="1"/>
<rect x="273.49" y="291.9" width="3.6" height="6.0" fill="#26a69a"/>
<line x1="280.47" y1="292.0" x2="280.47" y2="294.5" stroke="#ef5350" stroke-width="1"/>
<rect x="278.67" y="292.5" width="3.6" height="1.2" fill="#ef5350"/>
<line x1="285.65" y1="285.6" x2="285.65" y2="296.3" stroke="#26a69a" stroke-width="1"/>
<rect x="283.85" y="287.2" width="3.6" height="7.4" fill="#26a69a"/>
<line x1="290.83" y1="263.5" x2="290.83" y2="288.5" stroke="#26a69a" stroke-width="1"/>
<rect x="289.03" y="264.1" width="3.6" height="23.6" fill="#26a69a"/>
<line x1="296.02" y1="262.2" x2="296.02" y2="283.0" stroke="#ef5350" stroke-width="1"/>
<rect x="294.22" y="265.1" width="3.6" height="16.9" fill="#ef5350"/>
<line x1="301.20" y1="253.8" x2="301.20" y2="282.5" stroke="#26a69a" stroke-width="1"/>
<rect x="299.40" y="258.4" width="3.6" height="23.4" fill="#26a69a"/>
<line x1="306.38" y1="255.0" x2="306.38" y2="268.5" stroke="#ef5350" stroke-width="1"/>
<rect x="304.58" y="258.3" width="3.6" height="4.5" fill="#ef5350"/>
<line x1="311.57" y1="261.5" x2="311.57" y2="263.5" stroke="#26a69a" stroke-width="1"/>
<rect x="309.77" y="261.9" width="3.6" height="1.2" fill="#26a69a"/>
<line x1="316.75" y1="236.3" x2="316.75" y2="263.0" stroke="#26a69a" stroke-width="1"/>
<rect x="314.95" y="237.7" width="3.6" height="24.8" fill="#26a69a"/>
<line x1="321.93" y1="226.4" x2="321.93" y2="243.8" stroke="#26a69a" stroke-width="1"/>
<rect x="320.13" y="230.1" width="3.6" height="8.5" fill="#26a69a"/>
<line x1="327.12" y1="228.5" x2="327.12" y2="246.6" stroke="#ef5350" stroke-width="1"/>
<rect x="325.32" y="229.3" width="3.6" height="10.3" fill="#ef5350"/>
<line x1="332.30" y1="229.5" x2="332.30" y2="242.4" stroke="#26a69a" stroke-width="1"/>
<rect x="330.50" y="230.1" width="3.6" height="10.4" fill="#26a69a"/>
<line x1="337.48" y1="223.3" x2="337.48" y2="236.7" stroke="#26a69a" stroke-width="1"/>
<rect x="335.68" y="229.1" width="3.6" height="1.2" fill="#26a69a"/>
<line x1="342.67" y1="229.0" x2="342.67" y2="230.5" stroke="#ef5350" stroke-width="1"/>
<rect x="340.87" y="229.2" width="3.6" height="1.2" fill="#ef5350"/>
<line x1="347.85" y1="218.8" x2="347.85" y2="230.7" stroke="#26a69a" stroke-width="1"/>
<rect x="346.05" y="221.2" width="3.6" height="8.5" fill="#26a69a"/>
<line x1="353.03" y1="220.5" x2="353.03" y2="239.6" stroke="#ef5350" stroke-width="1"/>
<rect x="351.23" y="221.2" width="3.6" height="8.9" fill="#ef5350"/>
<line x1="358.21" y1="229.0" x2="358.21" y2="250.1" stroke="#ef5350" stroke-width="1"/>
<rect x="356.41" y="229.7" width="3.6" height="16.2" fill="#ef5350"/>
<line x1="363.40" y1="225.9" x2="363.40" y2="246.5" stroke="#26a69a" stroke-width="1"/>
<rect x="361.60" y="226.4" width="3.6" height="19.5" fill="#26a69a"/>
<line x1="368.58" y1="223.3" x2="368.58" y2="234.6" stroke="#ef5350" stroke-width="1"/>
<rect x="366.78" y="226.4" width="3.6" height="6.5" fill="#ef5350"/>
<line x1="373.76" y1="231.0" x2="373.76" y2="232.6" stroke="#ef5350" stroke-width="1"/>
<rect x="371.96" y="231.2" width="3.6" height="1.2" fill="#ef5350"/>
<line x1="378.95" y1="225.9" x2="378.95" y2="240.0" stroke="#ef5350" stroke-width="1"/>
<rect x="377.15" y="232.5" width="3.6" height="5.6" fill="#ef5350"/>
<line x1="384.13" y1="233.5" x2="384.13" y2="245.9" stroke="#26a69a" stroke-width="1"/>
<rect x="382.33" y="233.9" width="3.6" height="3.3" fill="#26a69a"/>
<line x1="389.31" y1="226.9" x2="389.31" y2="239.6" stroke="#26a69a" stroke-width="1"/>
<rect x="387.51" y="232.1" width="3.6" height="2.8" fill="#26a69a"/>
<line x1="394.50" y1="221.6" x2="394.50" y2="253.0" stroke="#ef5350" stroke-width="1"/>
<rect x="392.69" y="232.1" width="3.6" height="20.1" fill="#ef5350"/>
<line x1="399.68" y1="246.6" x2="399.68" y2="273.4" stroke="#ef5350" stroke-width="1"/>
<rect x="397.88" y="250.8" width="3.6" height="19.8" fill="#ef5350"/>
<line x1="404.86" y1="270.5" x2="404.86" y2="272.0" stroke="#ef5350" stroke-width="1"/>
<rect x="403.06" y="270.6" width="3.6" height="1.2" fill="#ef5350"/>
<line x1="410.04" y1="270.5" x2="410.04" y2="293.4" stroke="#ef5350" stroke-width="1"/>
<rect x="408.24" y="271.2" width="3.6" height="21.4" fill="#ef5350"/>
<line x1="415.23" y1="277.8" x2="415.23" y2="294.5" stroke="#26a69a" stroke-width="1"/>
<rect x="413.43" y="291.0" width="3.6" height="1.2" fill="#26a69a"/>
<line x1="420.41" y1="273.4" x2="420.41" y2="301.7" stroke="#26a69a" stroke-width="1"/>
<rect x="418.61" y="285.1" width="3.6" height="6.4" fill="#26a69a"/>
<line x1="425.59" y1="254.5" x2="425.59" y2="297.8" stroke="#26a69a" stroke-width="1"/>
<rect x="423.79" y="264.1" width="3.6" height="20.7" fill="#26a69a"/>
<line x1="430.78" y1="262.2" x2="430.78" y2="285.0" stroke="#ef5350" stroke-width="1"/>
<rect x="428.98" y="263.9" width="3.6" height="11.7" fill="#ef5350"/>
<line x1="435.96" y1="276.5" x2="435.96" y2="279.8" stroke="#26a69a" stroke-width="1"/>
<rect x="434.16" y="277.0" width="3.6" height="2.3" fill="#26a69a"/>
<line x1="441.14" y1="265.6" x2="441.14" y2="279.5" stroke="#26a69a" stroke-width="1"/>
<rect x="439.34" y="272.8" width="3.6" height="4.2" fill="#26a69a"/>
<line x1="446.32" y1="258.4" x2="446.32" y2="273.5" stroke="#26a69a" stroke-width="1"/>
<rect x="444.52" y="267.0" width="3.6" height="5.8" fill="#26a69a"/>
<line x1="451.51" y1="253.4" x2="451.51" y2="280.6" stroke="#26a69a" stroke-width="1"/>
<rect x="449.71" y="261.7" width="3.6" height="6.1" fill="#26a69a"/>
<line x1="456.69" y1="258.9" x2="456.69" y2="277.8" stroke="#ef5350" stroke-width="1"/>
<rect x="454.89" y="261.7" width="3.6" height="9.1" fill="#ef5350"/>
<line x1="461.87" y1="261.0" x2="461.87" y2="271.7" stroke="#26a69a" stroke-width="1"/>
<rect x="460.07" y="264.5" width="3.6" height="6.3" fill="#26a69a"/>
<line x1="467.06" y1="264.0" x2="467.06" y2="265.2" stroke="#26a69a" stroke-width="1"/>
<rect x="465.26" y="263.9" width="3.6" height="1.2" fill="#26a69a"/>
<line x1="472.24" y1="252.2" x2="472.24" y2="265.0" stroke="#26a69a" stroke-width="1"/>
<rect x="470.44" y="257.8" width="3.6" height="6.7" fill="#26a69a"/>
<line x1="477.42" y1="253.9" x2="477.42" y2="273.9" stroke="#ef5350" stroke-width="1"/>
<rect x="475.62" y="257.8" width="3.6" height="12.8" fill="#ef5350"/>
<line x1="482.61" y1="267.3" x2="482.61" y2="287.3" stroke="#ef5350" stroke-width="1"/>
<rect x="480.81" y="270.4" width="3.6" height="15.5" fill="#ef5350"/>
<line x1="487.79" y1="277.3" x2="487.79" y2="296.7" stroke="#26a69a" stroke-width="1"/>
<rect x="485.99" y="278.2" width="3.6" height="7.4" fill="#26a69a"/>
<line x1="492.97" y1="277.3" x2="492.97" y2="300.6" stroke="#ef5350" stroke-width="1"/>
<rect x="491.17" y="278.2" width="3.6" height="10.8" fill="#ef5350"/>
<line x1="498.16" y1="290.0" x2="498.16" y2="291.2" stroke="#26a69a" stroke-width="1"/>
<rect x="496.36" y="290.0" width="3.6" height="1.2" fill="#26a69a"/>
<line x1="503.34" y1="281.7" x2="503.34" y2="290.5" stroke="#26a69a" stroke-width="1"/>
<rect x="501.54" y="288.9" width="3.6" height="1.2" fill="#26a69a"/>
<line x1="508.52" y1="283.9" x2="508.52" y2="325.5" stroke="#ef5350" stroke-width="1"/>
<rect x="506.72" y="289.4" width="3.6" height="30.4" fill="#ef5350"/>
<line x1="513.70" y1="318.2" x2="513.70" y2="339.4" stroke="#ef5350" stroke-width="1"/>
<rect x="511.90" y="319.8" width="3.6" height="16.3" fill="#ef5350"/>
<line x1="518.89" y1="328.0" x2="518.89" y2="342.6" stroke="#ef5350" stroke-width="1"/>
<rect x="517.09" y="336.1" width="3.6" height="4.1" fill="#ef5350"/>
<line x1="524.07" y1="334.5" x2="524.07" y2="357.3" stroke="#26a69a" stroke-width="1"/>
<rect x="522.27" y="335.0" width="3.6" height="4.9" fill="#26a69a"/>
<line x1="529.25" y1="336.0" x2="529.25" y2="337.2" stroke="#26a69a" stroke-width="1"/>
<rect x="527.45" y="336.0" width="3.6" height="1.2" fill="#26a69a"/>
<line x1="534.44" y1="335.3" x2="534.44" y2="364.5" stroke="#ef5350" stroke-width="1"/>
<rect x="532.64" y="336.9" width="3.6" height="26.9" fill="#ef5350"/>
<line x1="539.62" y1="356.5" x2="539.62" y2="370.4" stroke="#ef5350" stroke-width="1"/>
<rect x="537.82" y="363.7" width="3.6" height="1.2" fill="#ef5350"/>
<line x1="544.80" y1="346.7" x2="544.80" y2="371.2" stroke="#26a69a" stroke-width="1"/>
<rect x="543.00" y="360.1" width="3.6" height="4.6" fill="#26a69a"/>
<line x1="549.99" y1="359.5" x2="549.99" y2="379.4" stroke="#ef5350" stroke-width="1"/>
<rect x="548.19" y="360.1" width="3.6" height="7.8" fill="#ef5350"/>
<line x1="555.17" y1="352.4" x2="555.17" y2="368.5" stroke="#26a69a" stroke-width="1"/>
<rect x="553.37" y="354.1" width="3.6" height="13.8" fill="#26a69a"/>
<line x1="560.35" y1="354.5" x2="560.35" y2="356.0" stroke="#ef5350" stroke-width="1"/>
<rect x="558.55" y="354.7" width="3.6" height="1.2" fill="#ef5350"/>
<line x1="565.53" y1="332.0" x2="565.53" y2="356.3" stroke="#26a69a" stroke-width="1"/>
<rect x="563.73" y="343.1" width="3.6" height="12.6" fill="#26a69a"/>
<line x1="570.72" y1="319.0" x2="570.72" y2="347.5" stroke="#26a69a" stroke-width="1"/>
<rect x="568.92" y="326.3" width="3.6" height="17.1" fill="#26a69a"/>
<line x1="575.90" y1="318.1" x2="575.90" y2="340.2" stroke="#ef5350" stroke-width="1"/>
<rect x="574.10" y="327.1" width="3.6" height="9.5" fill="#ef5350"/>
<line x1="581.08" y1="317.7" x2="581.08" y2="341.8" stroke="#26a69a" stroke-width="1"/>
<rect x="579.28" y="327.1" width="3.6" height="9.5" fill="#26a69a"/>
<line x1="586.27" y1="321.4" x2="586.27" y2="346.7" stroke="#ef5350" stroke-width="1"/>
<rect x="584.47" y="327.1" width="3.6" height="2.5" fill="#ef5350"/>
<line x1="591.45" y1="329.4" x2="591.45" y2="330.6" stroke="#ef5350" stroke-width="1"/>
<rect x="589.65" y="329.4" width="3.6" height="1.2" fill="#ef5350"/>
<line x1="596.63" y1="321.4" x2="596.63" y2="336.9" stroke="#26a69a" stroke-width="1"/>
<rect x="594.83" y="327.4" width="3.6" height="1.2" fill="#26a69a"/>
<line x1="601.82" y1="322.7" x2="601.82" y2="350.0" stroke="#ef5350" stroke-width="1"/>
<rect x="600.02" y="329.6" width="3.6" height="18.7" fill="#ef5350"/>
<line x1="607.00" y1="331.5" x2="607.00" y2="352.4" stroke="#26a69a" stroke-width="1"/>
<rect x="605.20" y="332.1" width="3.6" height="16.5" fill="#26a69a"/>
<line x1="612.18" y1="325.5" x2="612.18" y2="348.9" stroke="#ef5350" stroke-width="1"/>
<rect x="610.38" y="331.3" width="3.6" height="2.0" fill="#ef5350"/>
<line x1="617.36" y1="321.9" x2="617.36" y2="343.0" stroke="#26a69a" stroke-width="1"/>
<rect x="615.56" y="328.2" width="3.6" height="5.4" fill="#26a69a"/>
<line x1="622.55" y1="329.0" x2="622.55" y2="330.4" stroke="#26a69a" stroke-width="1"/>
<rect x="620.75" y="329.1" width="3.6" height="1.2" fill="#26a69a"/>
<line x1="627.73" y1="317.7" x2="627.73" y2="331.3" stroke="#26a69a" stroke-width="1"/>
<rect x="625.93" y="321.2" width="3.6" height="7.0" fill="#26a69a"/>
<line x1="632.91" y1="314.2" x2="632.91" y2="340.5" stroke="#ef5350" stroke-width="1"/>
<rect x="631.11" y="321.2" width="3.6" height="18.7" fill="#ef5350"/>
<line x1="638.10" y1="335.2" x2="638.10" y2="346.9" stroke="#26a69a" stroke-width="1"/>
<rect x="636.30" y="338.3" width="3.6" height="1.9" fill="#26a69a"/>
<line x1="643.28" y1="322.5" x2="643.28" y2="341.4" stroke="#26a69a" stroke-width="1"/>
<rect x="641.48" y="323.5" width="3.6" height="14.8" fill="#26a69a"/>
<line x1="648.46" y1="322.3" x2="648.46" y2="343.8" stroke="#ef5350" stroke-width="1"/>
<rect x="646.66" y="323.0" width="3.6" height="13.4" fill="#ef5350"/>
<line x1="653.64" y1="336.5" x2="653.64" y2="337.7" stroke="#26a69a" stroke-width="1"/>
<rect x="651.85" y="336.5" width="3.6" height="1.2" fill="#26a69a"/>
<line x1="658.83" y1="328.2" x2="658.83" y2="339.9" stroke="#26a69a" stroke-width="1"/>
<rect x="657.03" y="333.3" width="3.6" height="4.2" fill="#26a69a"/>
<line x1="664.01" y1="323.0" x2="664.01" y2="334.4" stroke="#26a69a" stroke-width="1"/>
<rect x="662.21" y="329.7" width="3.6" height="3.9" fill="#26a69a"/>
<line x1="669.19" y1="300.1" x2="669.19" y2="330.5" stroke="#26a69a" stroke-width="1"/>
<rect x="667.39" y="313.4" width="3.6" height="16.3" fill="#26a69a"/>
<line x1="674.38" y1="300.9" x2="674.38" y2="317.3" stroke="#26a69a" stroke-width="1"/>
<rect x="672.58" y="308.7" width="3.6" height="4.4" fill="#26a69a"/>
<line x1="679.56" y1="307.5" x2="679.56" y2="324.0" stroke="#ef5350" stroke-width="1"/>
<rect x="677.76" y="308.7" width="3.6" height="11.7" fill="#ef5350"/>
<line x1="684.74" y1="320.6" x2="684.74" y2="321.8" stroke="#26a69a" stroke-width="1"/>
<rect x="682.94" y="320.6" width="3.6" height="1.2" fill="#26a69a"/>
<line x1="689.93" y1="319.8" x2="689.93" y2="341.4" stroke="#ef5350" stroke-width="1"/>
<rect x="688.13" y="320.4" width="3.6" height="19.8" fill="#ef5350"/>
<line x1="695.11" y1="334.0" x2="695.11" y2="347.3" stroke="#26a69a" stroke-width="1"/>
<rect x="693.31" y="338.5" width="3.6" height="1.2" fill="#26a69a"/>
<line x1="700.29" y1="332.0" x2="700.29" y2="340.0" stroke="#26a69a" stroke-width="1"/>
<rect x="698.49" y="336.7" width="3.6" height="1.9" fill="#26a69a"/>
<line x1="705.48" y1="332.6" x2="705.48" y2="355.5" stroke="#ef5350" stroke-width="1"/>
<rect x="703.68" y="336.7" width="3.6" height="18.0" fill="#ef5350"/>
<line x1="710.66" y1="352.5" x2="710.66" y2="364.5" stroke="#ef5350" stroke-width="1"/>
<rect x="708.86" y="354.1" width="3.6" height="9.4" fill="#ef5350"/>
<line x1="715.84" y1="363.3" x2="715.84" y2="364.5" stroke="#26a69a" stroke-width="1"/>
<rect x="714.04" y="363.3" width="3.6" height="1.2" fill="#26a69a"/>
<line x1="721.02" y1="362.9" x2="721.02" y2="385.0" stroke="#ef5350" stroke-width="1"/>
<rect x="719.22" y="364.2" width="3.6" height="18.2" fill="#ef5350"/>
<line x1="726.21" y1="368.0" x2="726.21" y2="390.0" stroke="#26a69a" stroke-width="1"/>
<rect x="724.41" y="377.4" width="3.6" height="5.0" fill="#26a69a"/>
<line x1="731.39" y1="371.0" x2="731.39" y2="388.8" stroke="#ef5350" stroke-width="1"/>
<rect x="729.59" y="376.8" width="3.6" height="1.2" fill="#ef5350"/>
<line x1="736.57" y1="364.4" x2="736.57" y2="380.3" stroke="#26a69a" stroke-width="1"/>
<rect x="734.77" y="375.5" width="3.6" height="2.3" fill="#26a69a"/>
<line x1="741.76" y1="354.1" x2="741.76" y2="381.5" stroke="#ef5350" stroke-width="1"/>
<rect x="739.96" y="375.5" width="3.6" height="2.5" fill="#ef5350"/>
<line x1="746.94" y1="377.7" x2="746.94" y2="378.9" stroke="#ef5350" stroke-width="1"/>
<rect x="745.14" y="377.7" width="3.6" height="1.2" fill="#ef5350"/>
<line x1="752.12" y1="365.4" x2="752.12" y2="387.5" stroke="#26a69a" stroke-width="1"/>
<rect x="750.32" y="371.1" width="3.6" height="7.6" fill="#26a69a"/>
<line x1="757.30" y1="361.0" x2="757.30" y2="373.6" stroke="#26a69a" stroke-width="1"/>
<rect x="755.50" y="367.7" width="3.6" height="4.0" fill="#26a69a"/>
<line x1="762.49" y1="356.6" x2="762.49" y2="376.1" stroke="#26a69a" stroke-width="1"/>
<rect x="760.69" y="361.4" width="3.6" height="6.3" fill="#26a69a"/>
<line x1="767.67" y1="361.5" x2="767.67" y2="388.8" stroke="#ef5350" stroke-width="1"/>
<rect x="765.87" y="362.3" width="3.6" height="19.5" fill="#ef5350"/>
<line x1="772.85" y1="364.2" x2="772.85" y2="382.5" stroke="#26a69a" stroke-width="1"/>
<rect x="771.05" y="380.8" width="3.6" height="1.2" fill="#26a69a"/>
<line x1="778.04" y1="384.0" x2="778.04" y2="386.2" stroke="#ef5350" stroke-width="1"/>
<rect x="776.24" y="384.5" width="3.6" height="1.2" fill="#ef5350"/>
<line x1="783.22" y1="382.4" x2="783.22" y2="395.0" stroke="#26a69a" stroke-width="1"/>
<rect x="781.42" y="383.7" width="3.6" height="1.2" fill="#26a69a"/>
<line x1="788.40" y1="373.6" x2="788.40" y2="397.0" stroke="#ef5350" stroke-width="1"/>
<rect x="786.60" y="384.3" width="3.6" height="5.7" fill="#ef5350"/>
<line x1="793.59" y1="368.0" x2="793.59" y2="395.0" stroke="#26a69a" stroke-width="1"/>
<rect x="791.79" y="368.9" width="3.6" height="20.7" fill="#26a69a"/>
<line x1="798.77" y1="365.4" x2="798.77" y2="385.0" stroke="#ef5350" stroke-width="1"/>
<rect x="796.97" y="369.2" width="3.6" height="2.5" fill="#ef5350"/>
<line x1="803.95" y1="349.3" x2="803.95" y2="372.5" stroke="#26a69a" stroke-width="1"/>
<rect x="802.15" y="363.2" width="3.6" height="8.3" fill="#26a69a"/>
<line x1="809.13" y1="350.5" x2="809.13" y2="354.5" stroke="#ef5350" stroke-width="1"/>
<rect x="807.34" y="351.5" width="3.6" height="2.1" fill="#ef5350"/>
<line x1="814.32" y1="338.0" x2="814.32" y2="359.5" stroke="#26a69a" stroke-width="1"/>
<rect x="812.52" y="347.8" width="3.6" height="6.1" fill="#26a69a"/>
<line x1="819.50" y1="338.5" x2="819.50" y2="379.0" stroke="#ef5350" stroke-width="1"/>
<rect x="817.70" y="347.8" width="3.6" height="30.2" fill="#ef5350"/>
<line x1="824.68" y1="367.8" x2="824.68" y2="379.5" stroke="#26a69a" stroke-width="1"/>
<rect x="822.88" y="375.3" width="3.6" height="3.3" fill="#26a69a"/>
<line x1="829.87" y1="366.9" x2="829.87" y2="376.5" stroke="#26a69a" stroke-width="1"/>
<rect x="828.07" y="371.9" width="3.6" height="3.4" fill="#26a69a"/>
<line x1="835.05" y1="363.7" x2="835.05" y2="381.7" stroke="#26a69a" stroke-width="1"/>
<rect x="833.25" y="368.2" width="3.6" height="3.3" fill="#26a69a"/>
<line x1="840.23" y1="368.2" x2="840.23" y2="369.4" stroke="#26a69a" stroke-width="1"/>
<rect x="838.43" y="368.2" width="3.6" height="1.2" fill="#26a69a"/>
<line x1="845.42" y1="366.4" x2="845.42" y2="378.0" stroke="#26a69a" stroke-width="1"/>
<rect x="843.62" y="366.9" width="3.6" height="1.9" fill="#26a69a"/>
<line x1="850.60" y1="361.3" x2="850.60" y2="379.0" stroke="#ef5350" stroke-width="1"/>
<rect x="848.80" y="366.0" width="3.6" height="12.0" fill="#ef5350"/>
<line x1="855.78" y1="375.5" x2="855.78" y2="406.8" stroke="#ef5350" stroke-width="1"/>
<rect x="853.98" y="376.2" width="3.6" height="26.0" fill="#ef5350"/>
<line x1="860.97" y1="388.6" x2="860.97" y2="409.0" stroke="#ef5350" stroke-width="1"/>
<rect x="859.17" y="402.1" width="3.6" height="1.2" fill="#ef5350"/>
<line x1="866.15" y1="400.3" x2="866.15" y2="435.5" stroke="#ef5350" stroke-width="1"/>
<rect x="864.35" y="402.7" width="3.6" height="29.1" fill="#ef5350"/>
<line x1="871.33" y1="434.2" x2="871.33" y2="435.8" stroke="#26a69a" stroke-width="1"/>
<rect x="869.53" y="434.4" width="3.6" height="1.2" fill="#26a69a"/>
<line x1="876.51" y1="426.3" x2="876.51" y2="457.8" stroke="#ef5350" stroke-width="1"/>
<rect x="874.71" y="434.2" width="3.6" height="13.0" fill="#ef5350"/>
<line x1="881.70" y1="434.6" x2="881.70" y2="454.7" stroke="#ef5350" stroke-width="1"/>
<rect x="879.90" y="446.7" width="3.6" height="2.8" fill="#ef5350"/>
<line x1="886.88" y1="418.9" x2="886.88" y2="461.5" stroke="#26a69a" stroke-width="1"/>
<rect x="885.08" y="422.6" width="3.6" height="26.5" fill="#26a69a"/>
<line x1="892.06" y1="405.3" x2="892.06" y2="441.1" stroke="#26a69a" stroke-width="1"/>
<rect x="890.26" y="405.9" width="3.6" height="16.7" fill="#26a69a"/>
<line x1="897.25" y1="399.4" x2="897.25" y2="421.6" stroke="#ef5350" stroke-width="1"/>
<rect x="895.45" y="405.9" width="3.6" height="4.2" fill="#ef5350"/>
<line x1="902.43" y1="409.5" x2="902.43" y2="414.5" stroke="#26a69a" stroke-width="1"/>
<rect x="900.63" y="410.1" width="3.6" height="3.7" fill="#26a69a"/>
<line x1="907.61" y1="401.2" x2="907.61" y2="418.5" stroke="#26a69a" stroke-width="1"/>
<rect x="905.81" y="405.6" width="3.6" height="4.0" fill="#26a69a"/>
<line x1="912.79" y1="371.4" x2="912.79" y2="408.0" stroke="#26a69a" stroke-width="1"/>
<rect x="911.00" y="374.0" width="3.6" height="31.9" fill="#26a69a"/>
<line x1="917.98" y1="371.7" x2="917.98" y2="402.2" stroke="#ef5350" stroke-width="1"/>
<rect x="916.18" y="374.0" width="3.6" height="19.2" fill="#ef5350"/>
<line x1="923.16" y1="385.1" x2="923.16" y2="412.5" stroke="#ef5350" stroke-width="1"/>
<rect x="921.36" y="394.0" width="3.6" height="17.8" fill="#ef5350"/>
<line x1="928.34" y1="406.6" x2="928.34" y2="423.0" stroke="#ef5350" stroke-width="1"/>
<rect x="926.54" y="411.5" width="3.6" height="10.7" fill="#ef5350"/>
<line x1="933.53" y1="422.0" x2="933.53" y2="423.0" stroke="#26a69a" stroke-width="1"/>
<rect x="931.73" y="421.9" width="3.6" height="1.2" fill="#26a69a"/>
<line x1="938.71" y1="418.5" x2="938.71" y2="432.6" stroke="#ef5350" stroke-width="1"/>
<rect x="936.91" y="422.2" width="3.6" height="6.7" fill="#ef5350"/>
<line x1="943.89" y1="414.8" x2="943.89" y2="434.8" stroke="#26a69a" stroke-width="1"/>
<rect x="942.09" y="427.2" width="3.6" height="1.2" fill="#26a69a"/>
<line x1="949.08" y1="421.9" x2="949.08" y2="435.6" stroke="#ef5350" stroke-width="1"/>
<rect x="947.28" y="427.2" width="3.6" height="1.2" fill="#ef5350"/>
<line x1="954.26" y1="409.0" x2="954.26" y2="442.2" stroke="#26a69a" stroke-width="1"/>
<rect x="952.46" y="414.0" width="3.6" height="14.9" fill="#26a69a"/>
<line x1="959.44" y1="407.4" x2="959.44" y2="427.4" stroke="#ef5350" stroke-width="1"/>
<rect x="957.64" y="414.5" width="3.6" height="11.4" fill="#ef5350"/>
<line x1="964.62" y1="424.5" x2="964.62" y2="425.9" stroke="#ef5350" stroke-width="1"/>
<rect x="962.83" y="424.6" width="3.6" height="1.2" fill="#ef5350"/>
<line x1="969.81" y1="399.9" x2="969.81" y2="425.5" stroke="#26a69a" stroke-width="1"/>
<rect x="968.01" y="402.2" width="3.6" height="22.7" fill="#26a69a"/>
<line x1="974.99" y1="395.2" x2="974.99" y2="405.9" stroke="#26a69a" stroke-width="1"/>
<rect x="973.19" y="398.1" width="3.6" height="4.1" fill="#26a69a"/>
<line x1="980.17" y1="395.5" x2="980.17" y2="417.7" stroke="#ef5350" stroke-width="1"/>
<rect x="978.37" y="397.7" width="3.6" height="17.1" fill="#ef5350"/>
<line x1="985.36" y1="401.4" x2="985.36" y2="419.2" stroke="#26a69a" stroke-width="1"/>
<rect x="983.56" y="412.5" width="3.6" height="2.3" fill="#26a69a"/>
<line x1="990.54" y1="396.0" x2="990.54" y2="428.9" stroke="#26a69a" stroke-width="1"/>
<rect x="988.74" y="397.0" width="3.6" height="15.5" fill="#26a69a"/>
<line x1="995.72" y1="392.5" x2="995.72" y2="396.5" stroke="#26a69a" stroke-width="1"/>
<rect x="993.92" y="393.2" width="3.6" height="2.3" fill="#26a69a"/>
<line x1="1000.91" y1="390.3" x2="1000.91" y2="408.1" stroke="#ef5350" stroke-width="1"/>
<rect x="999.11" y="393.2" width="3.6" height="3.5" fill="#ef5350"/>
<line x1="1006.09" y1="376.0" x2="1006.09" y2="400.7" stroke="#26a69a" stroke-width="1"/>
<rect x="1004.29" y="377.1" width="3.6" height="19.2" fill="#26a69a"/>
<line x1="1011.27" y1="353.1" x2="1011.27" y2="378.0" stroke="#26a69a" stroke-width="1"/>
<rect x="1009.47" y="355.0" width="3.6" height="22.1" fill="#26a69a"/>
<line x1="1016.46" y1="352.8" x2="1016.46" y2="380.1" stroke="#ef5350" stroke-width="1"/>
<rect x="1014.66" y="355.0" width="3.6" height="23.0" fill="#ef5350"/>
<line x1="1021.64" y1="371.5" x2="1021.64" y2="385.5" stroke="#ef5350" stroke-width="1"/>
<rect x="1019.84" y="377.4" width="3.6" height="1.2" fill="#ef5350"/>
<line x1="1026.82" y1="378.5" x2="1026.82" y2="382.2" stroke="#26a69a" stroke-width="1"/>
<rect x="1025.02" y="379.0" width="3.6" height="2.6" fill="#26a69a"/>
<line x1="1032.00" y1="378.0" x2="1032.00" y2="395.2" stroke="#ef5350" stroke-width="1"/>
<rect x="1030.20" y="378.6" width="3.6" height="15.5" fill="#ef5350"/>
<line x1="1037.19" y1="380.1" x2="1037.19" y2="399.5" stroke="#ef5350" stroke-width="1"/>
<rect x="1035.39" y="392.9" width="3.6" height="1.2" fill="#ef5350"/>
<line x1="1042.37" y1="375.8" x2="1042.37" y2="407.5" stroke="#ef5350" stroke-width="1"/>
<rect x="1040.57" y="396.3" width="3.6" height="10.7" fill="#ef5350"/>
<line x1="1047.55" y1="406.5" x2="1047.55" y2="423.2" stroke="#ef5350" stroke-width="1"/>
<rect x="1045.75" y="407.0" width="3.6" height="11.9" fill="#ef5350"/>
<line x1="1052.74" y1="377.3" x2="1052.74" y2="419.5" stroke="#26a69a" stroke-width="1"/>
<rect x="1050.94" y="378.6" width="3.6" height="40.3" fill="#26a69a"/>
<line x1="1057.92" y1="384.4" x2="1057.92" y2="390.0" stroke="#26a69a" stroke-width="1"/>
<rect x="1056.12" y="387.2" width="3.6" height="2.2" fill="#26a69a"/>
<line x1="1063.10" y1="365.0" x2="1063.10" y2="387.5" stroke="#26a69a" stroke-width="1"/>
<rect x="1061.30" y="367.2" width="3.6" height="19.4" fill="#26a69a"/>
<line x1="1068.28" y1="353.2" x2="1068.28" y2="375.8" stroke="#26a69a" stroke-width="1"/>
<rect x="1066.48" y="355.8" width="3.6" height="11.4" fill="#26a69a"/>
<line x1="1073.47" y1="354.3" x2="1073.47" y2="372.6" stroke="#ef5350" stroke-width="1"/>
<rect x="1071.67" y="355.8" width="3.6" height="12.9" fill="#ef5350"/>
<line x1="1078.65" y1="328.4" x2="1078.65" y2="381.2" stroke="#26a69a" stroke-width="1"/>
<rect x="1076.85" y="332.7" width="3.6" height="36.0" fill="#26a69a"/>
<line x1="1083.83" y1="301.1" x2="1083.83" y2="339.2" stroke="#26a69a" stroke-width="1"/>
<rect x="1082.03" y="304.8" width="3.6" height="27.9" fill="#26a69a"/>
<line x1="1089.02" y1="305.5" x2="1089.02" y2="310.0" stroke="#ef5350" stroke-width="1"/>
<rect x="1087.22" y="306.3" width="3.6" height="2.8" fill="#ef5350"/>
<line x1="1094.20" y1="301.5" x2="1094.20" y2="318.8" stroke="#ef5350" stroke-width="1"/>
<rect x="1092.40" y="307.4" width="3.6" height="1.2" fill="#ef5350"/>
<line x1="1099.38" y1="277.4" x2="1099.38" y2="316.9" stroke="#26a69a" stroke-width="1"/>
<rect x="1097.58" y="304.2" width="3.6" height="4.9" fill="#26a69a"/>
<line x1="1104.57" y1="286.3" x2="1104.57" y2="307.4" stroke="#26a69a" stroke-width="1"/>
<rect x="1102.77" y="295.3" width="3.6" height="8.9" fill="#26a69a"/>
<line x1="1109.75" y1="293.3" x2="1109.75" y2="312.6" stroke="#ef5350" stroke-width="1"/>
<rect x="1107.95" y="295.0" width="3.6" height="5.9" fill="#ef5350"/>
<line x1="1114.93" y1="294.3" x2="1114.93" y2="310.5" stroke="#ef5350" stroke-width="1"/>
<rect x="1113.13" y="300.6" width="3.6" height="7.1" fill="#ef5350"/>
<line x1="1120.11" y1="308.2" x2="1120.11" y2="309.4" stroke="#26a69a" stroke-width="1"/>
<rect x="1118.31" y="308.2" width="3.6" height="1.2" fill="#26a69a"/>
<line x1="1125.30" y1="307.0" x2="1125.30" y2="327.4" stroke="#ef5350" stroke-width="1"/>
<rect x="1123.50" y="308.4" width="3.6" height="15.9" fill="#ef5350"/>
<line x1="1130.48" y1="311.2" x2="1130.48" y2="325.0" stroke="#26a69a" stroke-width="1"/>
<rect x="1128.68" y="312.6" width="3.6" height="11.7" fill="#26a69a"/>
<line x1="1135.66" y1="293.3" x2="1135.66" y2="313.8" stroke="#26a69a" stroke-width="1"/>
<rect x="1133.86" y="294.3" width="3.6" height="18.8" fill="#26a69a"/>
<line x1="1140.85" y1="284.4" x2="1140.85" y2="297.1" stroke="#26a69a" stroke-width="1"/>
<rect x="1139.05" y="292.2" width="3.6" height="2.5" fill="#26a69a"/>
<line x1="1146.03" y1="288.7" x2="1146.03" y2="302.1" stroke="#ef5350" stroke-width="1"/>
<rect x="1144.23" y="292.2" width="3.6" height="3.5" fill="#ef5350"/>
<line x1="1151.21" y1="297.9" x2="1151.21" y2="299.1" stroke="#26a69a" stroke-width="1"/>
<rect x="1149.41" y="297.9" width="3.6" height="1.2" fill="#26a69a"/>
<line x1="1156.40" y1="275.3" x2="1156.40" y2="307.0" stroke="#ef5350" stroke-width="1"/>
<rect x="1154.60" y="298.1" width="3.6" height="6.8" fill="#ef5350"/>
<line x1="1161.58" y1="294.3" x2="1161.58" y2="308.4" stroke="#ef5350" stroke-width="1"/>
<rect x="1159.78" y="304.9" width="3.6" height="2.5" fill="#ef5350"/>
<line x1="1166.76" y1="288.7" x2="1166.76" y2="315.5" stroke="#26a69a" stroke-width="1"/>
<rect x="1164.96" y="292.2" width="3.6" height="16.2" fill="#26a69a"/>
<line x1="1171.94" y1="268.9" x2="1171.94" y2="295.0" stroke="#26a69a" stroke-width="1"/>
<rect x="1170.14" y="270.3" width="3.6" height="21.9" fill="#26a69a"/>
<line x1="1177.13" y1="265.7" x2="1177.13" y2="288.0" stroke="#26a69a" stroke-width="1"/>
<rect x="1175.33" y="266.1" width="3.6" height="4.6" fill="#26a69a"/>
<line x1="1182.31" y1="266.0" x2="1182.31" y2="269.5" stroke="#26a69a" stroke-width="1"/>
<rect x="1180.51" y="266.5" width="3.6" height="2.4" fill="#26a69a"/>
<line x1="1187.49" y1="256.2" x2="1187.49" y2="278.4" stroke="#ef5350" stroke-width="1"/>
<rect x="1185.69" y="266.1" width="3.6" height="9.2" fill="#ef5350"/>
<line x1="1192.68" y1="268.2" x2="1192.68" y2="282.5" stroke="#ef5350" stroke-width="1"/>
<rect x="1190.88" y="275.3" width="3.6" height="6.3" fill="#ef5350"/>
<line x1="1197.86" y1="265.1" x2="1197.86" y2="285.8" stroke="#26a69a" stroke-width="1"/>
<rect x="1196.06" y="272.2" width="3.6" height="8.7" fill="#26a69a"/>
<line x1="1203.04" y1="261.8" x2="1203.04" y2="276.1" stroke="#26a69a" stroke-width="1"/>
<rect x="1201.24" y="263.3" width="3.6" height="8.9" fill="#26a69a"/>
<line x1="1208.23" y1="256.9" x2="1208.23" y2="273.5" stroke="#ef5350" stroke-width="1"/>
<rect x="1206.43" y="264.1" width="3.6" height="4.2" fill="#ef5350"/>
<line x1="1213.41" y1="268.0" x2="1213.41" y2="269.2" stroke="#26a69a" stroke-width="1"/>
<rect x="1211.61" y="268.0" width="3.6" height="1.2" fill="#26a69a"/>
<line x1="1218.59" y1="258.6" x2="1218.59" y2="273.2" stroke="#26a69a" stroke-width="1"/>
<rect x="1216.79" y="267.2" width="3.6" height="1.2" fill="#26a69a"/>
<line x1="1223.77" y1="241.3" x2="1223.77" y2="269.0" stroke="#26a69a" stroke-width="1"/>
<rect x="1221.97" y="248.3" width="3.6" height="19.7" fill="#26a69a"/>
<line x1="1228.96" y1="237.1" x2="1228.96" y2="251.2" stroke="#26a69a" stroke-width="1"/>
<rect x="1227.16" y="239.2" width="3.6" height="9.1" fill="#26a69a"/>
<line x1="1234.14" y1="229.3" x2="1234.14" y2="256.4" stroke="#ef5350" stroke-width="1"/>
<rect x="1232.34" y="239.2" width="3.6" height="9.9" fill="#ef5350"/>
<line x1="1239.32" y1="242.6" x2="1239.32" y2="258.5" stroke="#ef5350" stroke-width="1"/>
<rect x="1237.52" y="249.1" width="3.6" height="8.8" fill="#ef5350"/>
<line x1="1244.51" y1="257.3" x2="1244.51" y2="258.5" stroke="#26a69a" stroke-width="1"/>
<rect x="1242.71" y="257.3" width="3.6" height="1.2" fill="#26a69a"/>
<line x1="1249.69" y1="244.4" x2="1249.69" y2="259.5" stroke="#26a69a" stroke-width="1"/>
<rect x="1247.89" y="253.8" width="3.6" height="3.1" fill="#26a69a"/>
<line x1="1254.87" y1="243.4" x2="1254.87" y2="259.5" stroke="#26a69a" stroke-width="1"/>
<rect x="1253.07" y="250.3" width="3.6" height="3.5" fill="#26a69a"/>
<line x1="1260.06" y1="246.5" x2="1260.06" y2="256.9" stroke="#ef5350" stroke-width="1"/>
<rect x="1258.26" y="250.3" width="3.6" height="3.5" fill="#ef5350"/>
<line x1="1265.24" y1="243.7" x2="1265.24" y2="260.5" stroke="#ef5350" stroke-width="1"/>
<rect x="1263.44" y="253.8" width="3.6" height="1.5" fill="#ef5350"/>
<line x1="1270.42" y1="249.3" x2="1270.42" y2="257.9" stroke="#26a69a" stroke-width="1"/>
<rect x="1268.62" y="252.0" width="3.6" height="3.5" fill="#26a69a"/>
<line x1="1275.60" y1="247.7" x2="1275.60" y2="248.9" stroke="#26a69a" stroke-width="1"/>
<rect x="1273.80" y="247.7" width="3.6" height="1.2" fill="#26a69a"/>
<line x1="1280.79" y1="241.8" x2="1280.79" y2="253.2" stroke="#26a69a" stroke-width="1"/>
<rect x="1278.99" y="247.2" width="3.6" height="1.2" fill="#26a69a"/>
<line x1="1285.97" y1="241.3" x2="1285.97" y2="253.8" stroke="#ef5350" stroke-width="1"/>
<rect x="1284.17" y="247.2" width="3.6" height="4.5" fill="#ef5350"/>
<line x1="1291.15" y1="238.2" x2="1291.15" y2="252.5" stroke="#26a69a" stroke-width="1"/>
<rect x="1289.35" y="243.4" width="3.6" height="8.3" fill="#26a69a"/>
<line x1="1296.34" y1="233.1" x2="1296.34" y2="247.8" stroke="#26a69a" stroke-width="1"/>
<rect x="1294.54" y="235.1" width="3.6" height="8.5" fill="#26a69a"/>
<line x1="1301.52" y1="234.0" x2="1301.52" y2="245.1" stroke="#ef5350" stroke-width="1"/>
<rect x="1299.72" y="237.5" width="3.6" height="5.3" fill="#ef5350"/>
<line x1="1306.70" y1="238.4" x2="1306.70" y2="270.9" stroke="#ef5350" stroke-width="1"/>
<rect x="1304.90" y="241.5" width="3.6" height="23.6" fill="#ef5350"/>
<line x1="1311.89" y1="248.2" x2="1311.89" y2="267.0" stroke="#26a69a" stroke-width="1"/>
<rect x="1310.09" y="253.8" width="3.6" height="12.0" fill="#26a69a"/>
<line x1="1317.07" y1="249.1" x2="1317.07" y2="272.0" stroke="#ef5350" stroke-width="1"/>
<rect x="1315.27" y="253.5" width="3.6" height="17.6" fill="#ef5350"/>
<line x1="1322.25" y1="245.5" x2="1322.25" y2="277.8" stroke="#26a69a" stroke-width="1"/>
<rect x="1320.45" y="246.4" width="3.6" height="24.7" fill="#26a69a"/>
<line x1="1327.43" y1="247.2" x2="1327.43" y2="248.4" stroke="#26a69a" stroke-width="1"/>
<rect x="1325.63" y="247.2" width="3.6" height="1.2" fill="#26a69a"/>
<line x1="1332.62" y1="224.4" x2="1332.62" y2="247.5" stroke="#26a69a" stroke-width="1"/>
<rect x="1330.82" y="230.0" width="3.6" height="16.8" fill="#26a69a"/>
<line x1="1337.80" y1="224.4" x2="1337.80" y2="233.7" stroke="#26a69a" stroke-width="1"/>
<rect x="1336.00" y="228.9" width="3.6" height="1.2" fill="#26a69a"/>
<line x1="1342.98" y1="221.0" x2="1342.98" y2="230.8" stroke="#26a69a" stroke-width="1"/>
<rect x="1341.18" y="224.1" width="3.6" height="5.9" fill="#26a69a"/>
<line x1="1348.17" y1="204.1" x2="1348.17" y2="230.8" stroke="#26a69a" stroke-width="1"/>
<rect x="1346.37" y="206.8" width="3.6" height="17.8" fill="#26a69a"/>
<line x1="1353.35" y1="203.7" x2="1353.35" y2="220.4" stroke="#ef5350" stroke-width="1"/>
<rect x="1351.55" y="206.8" width="3.6" height="3.2" fill="#ef5350"/>
<line x1="1358.53" y1="210.2" x2="1358.53" y2="211.4" stroke="#26a69a" stroke-width="1"/>
<rect x="1356.73" y="210.2" width="3.6" height="1.2" fill="#26a69a"/>
<line x1="1363.72" y1="201.7" x2="1363.72" y2="216.4" stroke="#ef5350" stroke-width="1"/>
<rect x="1361.92" y="210.8" width="3.6" height="1.8" fill="#ef5350"/>
<line x1="1368.90" y1="210.4" x2="1368.90" y2="215.7" stroke="#26a69a" stroke-width="1"/>
<rect x="1367.10" y="211.3" width="3.6" height="1.3" fill="#26a69a"/></g>
<path d="M56.0 517.0 C57.1 517.2 60.8 517.6 62.8 518.1 C64.8 518.6 66.2 519.5 68.0 520.1 C69.7 520.6 71.4 521.1 73.1 521.3 C74.9 521.5 76.6 521.5 78.3 521.3 C80.1 521.1 81.8 520.5 83.5 520.1 C85.2 519.8 87.0 519.4 88.7 519.1 C90.4 518.8 92.2 518.5 93.9 518.4 C95.6 518.3 97.3 518.1 99.1 518.3 C100.8 518.5 102.5 519.0 104.2 519.7 C106.0 520.5 107.7 521.6 109.4 522.6 C111.2 523.7 112.9 525.0 114.6 526.0 C116.3 527.0 118.1 527.9 119.8 528.7 C121.5 529.4 123.3 529.8 125.0 530.2 C126.7 530.6 128.4 531.1 130.2 531.3 C131.9 531.5 133.6 531.6 135.3 531.6 C137.1 531.7 138.8 531.6 140.5 531.5 C142.3 531.4 144.0 531.2 145.7 531.0 C147.4 530.8 149.2 530.5 150.9 530.3 C152.6 530.1 154.3 529.8 156.1 529.6 C157.8 529.3 159.5 529.0 161.3 528.8 C163.0 528.5 164.7 528.3 166.4 528.0 C168.2 527.8 169.9 527.5 171.6 527.3 C173.4 527.0 175.1 526.8 176.8 526.6 C178.5 526.4 180.3 526.1 182.0 525.9 C183.7 525.7 185.4 525.6 187.2 525.5 C188.9 525.4 190.6 525.3 192.4 525.3 C194.1 525.4 195.8 525.5 197.5 525.8 C199.3 526.1 201.0 526.5 202.7 526.9 C204.5 527.3 206.2 527.9 207.9 528.4 C209.6 528.9 211.4 529.4 213.1 529.8 C214.8 530.3 216.5 530.7 218.3 531.0 C220.0 531.3 221.7 531.5 223.5 531.7 C225.2 531.8 226.9 531.9 228.6 531.8 C230.4 531.8 232.1 531.5 233.8 531.3 C235.5 531.1 237.3 530.8 239.0 530.5 C240.7 530.2 242.5 529.8 244.2 529.4 C245.9 529.0 247.6 528.6 249.4 528.1 C251.1 527.7 252.8 527.1 254.6 526.6 C256.3 526.2 258.0 525.7 259.7 525.4 C261.5 525.1 263.2 524.9 264.9 524.9 C266.6 524.8 268.4 525.0 270.1 525.1 C271.8 525.3 273.6 525.5 275.3 525.7 C277.0 525.9 278.7 526.2 280.5 526.4 C282.2 526.5 283.9 526.8 285.7 526.9 C287.4 526.9 289.1 526.9 290.8 526.8 C292.6 526.6 294.3 526.5 296.0 526.0 C297.7 525.5 299.5 524.6 301.2 523.6 C302.9 522.6 304.7 521.2 306.4 519.9 C308.1 518.5 309.8 516.7 311.6 515.2 C313.3 513.7 315.0 512.2 316.8 510.9 C318.5 509.6 320.2 508.6 321.9 507.7 C323.7 506.7 325.4 506.0 327.1 505.4 C328.8 504.8 330.6 504.5 332.3 504.2 C334.0 503.9 335.8 503.7 337.5 503.4 C339.2 503.2 340.9 503.1 342.7 502.9 C344.4 502.8 346.1 502.7 347.8 502.7 C349.6 502.7 351.3 502.7 353.0 502.9 C354.8 503.0 356.5 503.2 358.2 503.6 C359.9 503.9 361.7 504.2 363.4 504.7 C365.1 505.1 366.9 505.6 368.6 506.1 C370.3 506.6 372.0 507.1 373.8 507.7 C375.5 508.3 377.2 508.9 378.9 509.7 C380.7 510.4 382.4 511.3 384.1 512.0 C385.9 512.8 387.6 513.3 389.3 514.0 C391.0 514.7 392.8 515.5 394.5 516.3 C396.2 517.2 398.0 518.1 399.7 519.2 C401.4 520.3 403.1 521.7 404.9 522.8 C406.6 523.9 408.3 524.8 410.0 525.7 C411.8 526.6 413.5 527.3 415.2 528.1 C417.0 528.9 418.7 529.9 420.4 530.6 C422.1 531.2 423.9 531.7 425.6 531.8 C427.3 532.0 429.0 531.9 430.8 531.5 C432.5 531.2 434.2 530.3 436.0 529.6 C437.7 529.0 439.4 528.3 441.1 527.5 C442.9 526.7 444.6 525.9 446.3 525.0 C448.1 524.1 449.8 523.1 451.5 522.2 C453.2 521.3 455.0 520.3 456.7 519.4 C458.4 518.5 460.1 517.8 461.9 516.9 C463.6 516.0 465.3 515.1 467.1 514.3 C468.8 513.4 470.5 512.3 472.2 511.6 C474.0 510.8 475.7 509.9 477.4 509.7 C479.2 509.5 480.9 509.8 482.6 510.2 C484.3 510.6 486.1 511.5 487.8 512.3 C489.5 513.2 491.2 514.2 493.0 515.2 C494.7 516.1 496.4 517.0 498.2 517.9 C499.9 518.9 501.6 519.8 503.3 520.8 C505.1 521.8 506.8 522.9 508.5 523.8 C510.2 524.7 512.0 525.5 513.7 526.2 C515.4 527.0 517.2 527.6 518.9 528.1 C520.6 528.5 522.3 528.8 524.1 529.2 C525.8 529.6 527.5 529.9 529.3 530.2 C531.0 530.5 532.7 530.8 534.4 531.0 C536.2 531.2 537.9 531.4 539.6 531.5 C541.3 531.7 543.1 531.8 544.8 531.8 C546.5 531.9 548.3 531.9 550.0 531.8 C551.7 531.8 553.4 531.7 555.2 531.5 C556.9 531.2 558.6 531.0 560.4 530.4 C562.1 529.8 563.8 528.9 565.5 527.9 C567.3 526.9 569.0 525.6 570.7 524.2 C572.4 522.9 574.2 521.3 575.9 519.9 C577.6 518.5 579.4 517.2 581.1 516.0 C582.8 514.8 584.5 513.6 586.3 512.6 C588.0 511.6 589.7 510.6 591.4 509.9 C593.2 509.1 594.9 508.5 596.6 508.1 C598.4 507.8 600.1 507.7 601.8 507.7 C603.5 507.8 605.3 508.0 607.0 508.2 C608.7 508.4 610.5 508.8 612.2 509.2 C613.9 509.5 615.6 509.7 617.4 510.0 C619.1 510.3 620.8 510.6 622.5 510.9 C624.3 511.2 626.0 511.5 627.7 511.8 C629.5 512.0 631.2 512.3 632.9 512.5 C634.6 512.7 636.4 512.9 638.1 513.1 C639.8 513.4 641.6 513.5 643.3 513.8 C645.0 514.0 646.7 514.2 648.5 514.4 C650.2 514.7 651.9 514.8 653.6 515.2 C655.4 515.6 657.1 516.4 658.8 516.8 C660.6 517.2 662.3 517.5 664.0 517.6 C665.7 517.8 667.5 517.8 669.2 517.6 C670.9 517.4 672.6 516.8 674.4 516.4 C676.1 516.0 677.8 515.7 679.6 515.4 C681.3 515.1 683.0 514.7 684.7 514.6 C686.5 514.5 688.2 514.5 689.9 514.7 C691.7 514.9 693.4 515.3 695.1 515.8 C696.8 516.4 698.6 517.3 700.3 518.2 C702.0 519.1 703.7 520.1 705.5 521.1 C707.2 522.2 708.9 523.5 710.7 524.6 C712.4 525.8 714.1 527.1 715.8 528.0 C717.6 529.0 719.3 529.9 721.0 530.5 C722.8 531.1 724.5 531.6 726.2 531.9 C727.9 532.2 729.7 532.3 731.4 532.4 C733.1 532.5 734.8 532.5 736.6 532.5 C738.3 532.4 740.0 532.3 741.8 532.1 C743.5 532.0 745.2 531.7 746.9 531.4 C748.7 531.1 750.4 530.9 752.1 530.4 C753.8 529.9 755.6 529.2 757.3 528.4 C759.0 527.6 760.8 526.5 762.5 525.6 C764.2 524.7 765.9 523.8 767.7 523.1 C769.4 522.3 771.1 521.6 772.9 521.3 C774.6 521.0 776.3 521.1 778.0 521.1 C779.8 521.2 781.5 521.3 783.2 521.6 C784.9 521.9 786.7 522.3 788.4 522.7 C790.1 523.1 791.9 523.7 793.6 523.9 C795.3 524.2 797.0 524.5 798.8 524.4 C800.5 524.4 802.2 524.3 804.0 523.7 C805.7 523.2 807.4 522.2 809.1 521.2 C810.9 520.1 812.6 518.5 814.3 517.4 C816.0 516.2 817.8 515.0 819.5 514.3 C821.2 513.5 823.0 513.0 824.7 512.9 C826.4 512.8 828.1 513.3 829.9 513.7 C831.6 514.0 833.3 514.5 835.0 515.1 C836.8 515.6 838.5 516.3 840.2 516.9 C842.0 517.5 843.7 518.2 845.4 518.8 C847.1 519.4 848.9 520.1 850.6 520.7 C852.3 521.3 854.1 521.9 855.8 522.5 C857.5 523.0 859.2 523.6 861.0 524.2 C862.7 524.7 864.4 525.3 866.1 525.9 C867.9 526.5 869.6 527.1 871.3 527.8 C873.1 528.5 874.8 529.3 876.5 530.0 C878.2 530.6 880.0 531.3 881.7 531.7 C883.4 532.1 885.2 532.4 886.9 532.3 C888.6 532.2 890.3 531.8 892.1 531.3 C893.8 530.8 895.5 530.1 897.2 529.3 C899.0 528.5 900.7 527.3 902.4 526.2 C904.2 525.1 905.9 523.9 907.6 522.6 C909.3 521.3 911.1 519.8 912.8 518.5 C914.5 517.2 916.3 515.8 918.0 514.7 C919.7 513.7 921.4 512.7 923.2 512.2 C924.9 511.6 926.6 511.3 928.3 511.2 C930.1 511.1 931.8 511.3 933.5 511.7 C935.3 512.1 937.0 512.7 938.7 513.6 C940.4 514.4 942.2 515.5 943.9 516.6 C945.6 517.8 947.3 519.2 949.1 520.3 C950.8 521.5 952.5 522.6 954.3 523.4 C956.0 524.3 957.7 524.9 959.4 525.4 C961.2 525.9 962.9 526.3 964.6 526.4 C966.4 526.6 968.1 526.7 969.8 526.3 C971.5 526.0 973.3 525.2 975.0 524.4 C976.7 523.6 978.4 522.4 980.2 521.3 C981.9 520.2 983.6 519.0 985.4 518.0 C987.1 517.0 988.8 516.3 990.5 515.3 C992.3 514.3 994.0 513.0 995.7 511.9 C997.5 510.8 999.2 509.7 1000.9 508.7 C1002.6 507.8 1004.4 506.9 1006.1 506.2 C1007.8 505.6 1009.5 505.3 1011.3 504.9 C1013.0 504.5 1014.7 504.2 1016.5 504.0 C1018.2 503.8 1019.9 503.6 1021.6 503.6 C1023.4 503.7 1025.1 503.8 1026.8 504.2 C1028.5 504.6 1030.3 505.3 1032.0 506.0 C1033.7 506.7 1035.5 507.6 1037.2 508.5 C1038.9 509.5 1040.6 510.7 1042.4 511.8 C1044.1 513.0 1045.8 514.5 1047.6 515.7 C1049.3 516.8 1051.0 518.0 1052.7 518.9 C1054.5 519.8 1056.2 520.7 1057.9 521.1 C1059.6 521.5 1061.4 521.3 1063.1 521.1 C1064.8 521.0 1066.6 520.6 1068.3 519.9 C1070.0 519.2 1071.7 518.0 1073.5 516.9 C1075.2 515.7 1076.9 514.3 1078.7 513.0 C1080.4 511.7 1082.1 510.3 1083.8 509.1 C1085.6 508.0 1087.3 506.8 1089.0 505.9 C1090.7 505.1 1092.5 504.5 1094.2 504.1 C1095.9 503.6 1097.7 503.2 1099.4 503.0 C1101.1 502.9 1102.8 502.9 1104.6 503.0 C1106.3 503.0 1108.0 503.2 1109.7 503.4 C1111.5 503.6 1113.2 503.8 1114.9 504.2 C1116.7 504.5 1118.4 504.9 1120.1 505.4 C1121.8 505.9 1123.6 506.4 1125.3 507.0 C1127.0 507.5 1128.8 508.2 1130.5 508.7 C1132.2 509.3 1133.9 509.8 1135.7 510.2 C1137.4 510.6 1139.1 511.0 1140.8 511.3 C1142.6 511.5 1144.3 511.7 1146.0 512.0 C1147.8 512.2 1149.5 512.4 1151.2 512.6 C1152.9 512.8 1154.7 512.9 1156.4 513.1 C1158.1 513.2 1159.9 513.3 1161.6 513.4 C1163.3 513.5 1165.0 513.6 1166.8 513.6 C1168.5 513.6 1170.2 513.6 1171.9 513.4 C1173.7 513.2 1175.4 512.9 1177.1 512.5 C1178.9 512.1 1180.6 511.5 1182.3 511.0 C1184.0 510.4 1185.8 509.8 1187.5 509.3 C1189.2 508.8 1190.9 508.3 1192.7 507.9 C1194.4 507.5 1196.1 507.2 1197.9 507.1 C1199.6 506.9 1201.3 506.8 1203.0 506.8 C1204.8 506.8 1206.5 507.0 1208.2 507.1 C1210.0 507.3 1211.7 507.6 1213.4 507.7 C1215.1 507.9 1216.9 508.1 1218.6 508.2 C1220.3 508.2 1222.0 508.3 1223.8 508.1 C1225.5 507.9 1227.2 507.4 1229.0 507.1 C1230.7 506.8 1232.4 506.5 1234.1 506.4 C1235.9 506.2 1237.6 506.1 1239.3 506.3 C1241.1 506.5 1242.8 507.1 1244.5 507.6 C1246.2 508.1 1248.0 508.6 1249.7 509.3 C1251.4 509.9 1253.1 510.6 1254.9 511.3 C1256.6 512.0 1258.3 512.7 1260.1 513.4 C1261.8 514.1 1263.5 514.8 1265.2 515.4 C1267.0 516.0 1268.7 516.6 1270.4 517.1 C1272.1 517.6 1273.9 518.0 1275.6 518.4 C1277.3 518.7 1279.1 519.0 1280.8 519.2 C1282.5 519.4 1284.2 519.6 1286.0 519.6 C1287.7 519.6 1289.4 519.5 1291.2 519.3 C1292.9 519.0 1294.6 518.6 1296.3 518.1 C1298.1 517.7 1299.8 516.9 1301.5 516.4 C1303.2 515.9 1305.0 515.4 1306.7 515.2 C1308.4 514.9 1310.2 514.9 1311.9 514.9 C1313.6 515.0 1315.3 515.5 1317.1 515.8 C1318.8 516.1 1320.5 516.4 1322.3 516.8 C1324.0 517.1 1325.7 517.6 1327.4 517.8 C1329.2 518.0 1330.9 518.3 1332.6 518.1 C1334.3 518.0 1336.1 517.6 1337.8 516.9 C1339.5 516.2 1341.3 515.0 1343.0 513.8 C1344.7 512.5 1346.4 510.7 1348.2 509.4 C1349.9 508.1 1351.6 506.9 1353.3 505.9 C1355.1 505.0 1356.8 504.2 1358.5 503.8 C1360.3 503.3 1362.0 503.3 1363.7 503.2 C1365.4 503.0 1368.0 502.9 1368.9 502.9" fill="none" stroke="#f09a5c" stroke-width="1.1"/>
<path d="M56.0 516.7 C58.0 517.7 63.8 522.1 67.8 522.6 C71.8 523.1 75.8 520.5 79.7 519.7 C83.7 518.9 88.2 517.9 91.5 517.7 C94.8 517.5 96.4 517.2 99.4 518.7 C102.4 520.2 106.0 524.6 109.3 526.6 C112.6 528.6 115.5 529.6 119.1 530.5 C122.7 531.4 126.7 532.1 131.0 532.1 C135.3 532.1 139.2 531.3 144.8 530.5 C150.4 529.7 157.9 528.4 164.5 527.5 C171.1 526.6 179.3 525.3 184.2 525.0 C189.1 524.7 190.5 524.9 194.1 525.6 C197.7 526.4 202.0 528.4 205.9 529.5 C209.8 530.6 213.8 531.8 217.7 532.1 C221.6 532.4 225.3 532.1 229.6 531.5 C233.9 530.9 238.8 529.7 243.4 528.5 C248.0 527.3 252.9 524.7 257.2 524.2 C261.5 523.7 264.4 525.1 269.0 525.6 C273.6 526.1 280.2 527.7 284.8 527.5 C289.4 527.3 293.0 526.7 296.6 524.6 C300.2 522.5 302.9 517.8 306.5 514.7 C310.1 511.6 314.7 507.6 318.3 505.8 C321.9 504.0 324.6 504.4 328.2 503.9 C331.8 503.3 336.1 502.7 340.0 502.5 C343.9 502.3 347.6 502.2 351.9 502.9 C356.2 503.6 362.2 505.8 365.8 506.8 C369.4 507.9 370.8 507.9 373.7 509.2 C376.6 510.5 380.9 513.7 383.5 514.7 C386.1 515.7 386.4 513.5 389.4 515.1 C392.4 516.8 398.0 522.5 401.3 524.6 C404.6 526.7 405.9 526.0 409.2 527.5 C412.5 529.0 417.1 533.3 421.0 533.5 C424.9 533.7 429.2 530.4 432.8 528.9 C436.4 527.4 439.4 526.4 442.7 524.6 C446.0 522.8 449.6 519.8 452.6 518.3 C455.6 516.8 457.6 517.3 460.5 515.7 C463.4 514.1 467.4 509.9 470.3 508.8 C473.2 507.7 475.9 508.4 478.2 509.2 C480.5 510.0 481.8 512.4 484.1 513.7 C486.4 515.0 488.1 515.0 492.0 517.1 C495.9 519.2 503.2 524.5 507.8 526.6 C512.4 528.7 515.6 528.7 519.6 529.5 C523.6 530.3 526.9 531.1 531.5 531.5 C536.1 531.9 542.6 532.3 547.2 532.1 C551.8 531.9 555.8 531.7 559.1 530.1 C562.4 528.5 563.7 525.3 567.0 522.6 C570.3 519.9 575.5 515.9 578.8 513.7 C582.1 511.5 584.1 510.4 586.7 509.2 C589.3 508.0 592.0 506.9 594.6 506.8 C597.2 506.7 599.2 507.8 602.5 508.4 C605.8 509.0 610.4 509.7 614.3 510.4 C618.2 511.1 622.1 511.8 626.1 512.4 C630.1 513.0 633.5 513.2 638.0 513.7 C642.5 514.2 649.4 514.8 652.9 515.7 C656.4 516.6 656.2 519.0 658.8 519.1 C661.4 519.2 664.4 517.2 668.7 516.3 C673.0 515.4 679.8 513.4 684.4 513.7 C689.0 514.0 693.0 516.6 696.3 518.3 C699.6 519.9 701.2 521.5 704.2 523.6 C707.2 525.7 710.1 529.4 714.0 530.9 C717.9 532.4 722.9 532.8 727.8 532.9 C732.7 533.0 739.3 532.2 743.6 531.5 C747.9 530.8 750.2 530.1 753.5 528.5 C756.8 526.9 760.0 522.9 763.3 521.6 C766.6 520.3 769.9 520.4 773.2 520.6 C776.5 520.8 779.5 521.8 783.1 522.6 C786.7 523.4 791.3 525.8 794.9 525.6 C798.5 525.4 801.5 523.8 804.8 521.6 C808.1 519.4 811.6 513.9 814.6 512.4 C817.6 510.9 819.5 512.2 822.5 512.8 C825.5 513.3 829.1 514.6 832.4 515.7 C835.7 516.9 838.6 518.4 842.2 519.7 C845.8 521.0 850.2 522.3 854.1 523.6 C858.0 524.9 862.0 526.0 865.9 527.5 C869.8 529.0 874.4 532.1 877.7 532.9 C881.0 533.7 882.3 533.5 885.6 532.5 C888.9 531.5 893.9 528.9 897.5 526.6 C901.1 524.3 904.3 521.1 907.3 518.7 C910.2 516.3 912.9 513.8 915.2 512.4 C917.5 511.0 918.5 510.5 921.1 510.4 C923.7 510.3 928.4 511.1 931.0 511.8 C933.6 512.5 934.6 513.1 936.9 514.7 C939.2 516.3 942.8 520.0 945.0 521.6 C947.2 523.2 946.8 523.6 949.9 524.6 C953.0 525.6 960.1 527.5 963.7 527.5 C967.3 527.5 969.6 525.8 971.6 524.6 C973.6 523.4 973.5 521.6 975.5 520.2 C977.5 518.8 981.1 517.4 983.4 516.3 C985.7 515.2 987.0 515.4 989.3 513.7 C991.6 512.1 994.6 507.8 997.2 506.4 C999.8 505.0 1002.1 505.9 1005.1 505.3 C1008.1 504.7 1011.7 503.0 1015.0 502.9 C1018.3 502.8 1021.5 503.4 1024.8 504.5 C1028.1 505.6 1031.7 507.9 1034.7 509.8 C1037.7 511.7 1040.3 513.9 1042.6 515.7 C1044.9 517.5 1045.9 519.5 1048.5 520.6 C1051.1 521.7 1055.0 522.7 1058.3 522.2 C1061.6 521.7 1064.9 519.9 1068.2 517.7 C1071.5 515.5 1074.5 511.3 1078.1 508.8 C1081.7 506.3 1085.6 503.9 1089.9 502.9 C1094.2 501.9 1099.1 502.4 1103.7 502.9 C1108.3 503.4 1113.2 504.6 1117.5 505.8 C1121.8 507.1 1124.4 509.2 1129.3 510.4 C1134.2 511.6 1142.0 512.2 1147.1 512.8 C1152.2 513.3 1156.2 513.6 1160.0 513.7 C1163.8 513.9 1166.6 514.4 1169.9 513.7 C1173.2 513.1 1175.8 511.0 1179.7 509.8 C1183.6 508.6 1189.2 506.8 1193.5 506.4 C1197.8 506.0 1201.8 506.8 1205.4 507.2 C1209.0 507.6 1212.2 508.7 1215.2 508.8 C1218.2 508.9 1220.8 508.4 1223.1 507.8 C1225.4 507.2 1226.4 505.4 1229.0 505.3 C1231.6 505.2 1235.6 506.3 1238.9 507.2 C1242.2 508.1 1245.5 509.5 1248.8 510.8 C1252.1 512.1 1255.3 513.9 1258.6 515.1 C1261.9 516.4 1265.2 517.5 1268.5 518.3 C1271.8 519.1 1275.0 519.5 1278.3 519.7 C1281.6 519.9 1285.6 520.1 1288.2 519.7 C1290.8 519.3 1291.8 518.0 1294.1 517.1 C1296.4 516.2 1299.4 514.6 1302.0 514.3 C1304.6 514.0 1307.3 514.6 1309.9 515.1 C1312.5 515.6 1314.8 516.5 1317.8 517.1 C1320.8 517.7 1325.1 518.6 1327.7 518.7 C1330.3 518.8 1331.6 518.7 1333.6 517.7 C1335.6 516.7 1337.2 514.9 1339.5 512.8 C1341.8 510.7 1344.5 506.5 1347.4 504.9 C1350.4 503.2 1353.6 503.2 1357.2 502.9 C1360.8 502.6 1367.1 502.9 1369.1 502.9" fill="none" stroke="#5b9ee8" stroke-width="1.1"/>
<polyline points="56.0,580.4 58.0,579.7 60.0,579.0 62.0,578.3 64.0,577.6 66.0,576.9 68.0,576.2 70.0,575.5 72.0,574.8 74.0,574.1 76.0,573.4 78.0,572.6 80.0,571.9 82.0,571.2 84.0,570.4 86.0,569.7 88.0,568.9 90.0,568.2 92.0,567.6 94.0,567.1 96.0,567.0 98.0,567.1 100.0,567.5 102.0,568.0 104.0,568.5 106.0,569.0 108.0,569.6 110.0,570.1 112.0,570.7 114.0,571.2 116.0,571.8 118.0,572.4 120.0,573.0 122.0,573.6 124.0,574.2 126.0,574.9 128.0,575.5 130.0,576.3 132.0,577.2 134.0,578.2 136.0,579.3 138.0,580.4 140.0,581.6 142.0,582.7 144.0,583.9 146.0,585.1 148.0,586.4 150.0,587.7 152.0,588.9 154.0,590.2 156.0,591.4 158.0,592.4 160.0,593.3 162.0,594.0 164.0,594.5 166.0,595.0 168.0,595.5 170.0,596.0 172.0,596.4 174.0,596.8 176.0,597.0 178.0,597.2 180.0,597.3 182.0,597.3 184.0,597.4 186.0,597.5 188.0,597.5 190.0,597.6 192.0,597.6 194.0,597.7 196.0,597.7 198.0,597.8 200.0,597.9 202.0,597.9 204.0,598.0 206.0,598.0 208.0,598.1 210.0,598.1 212.0,598.2 214.0,598.2 216.0,598.3 218.0,598.3 220.0,598.4 222.0,598.4 224.0,598.4 226.0,598.4 228.0,598.3 230.0,598.2 232.0,598.1 234.0,598.0 236.0,597.9 238.0,597.8 240.0,597.7 242.0,597.6 244.0,597.5 246.0,597.4 248.0,597.3 250.0,597.3 252.0,597.2 254.0,597.1 256.0,597.1 258.0,597.0 260.0,597.0 262.0,596.9 264.0,596.9 266.0,596.8 268.0,596.8 270.0,596.8 272.0,596.7 274.0,596.7 276.0,596.6 278.0,596.6 280.0,596.5 282.0,596.4 284.0,596.2 286.0,595.9 288.0,595.6 290.0,595.3 292.0,595.0 294.0,594.6 296.0,594.3 298.0,593.9 300.0,593.5 302.0,593.0 304.0,592.4 306.0,591.6 308.0,590.8 310.0,589.9 312.0,589.0 314.0,588.1 316.0,587.1 318.0,586.0 320.0,584.6 322.0,583.0 324.0,581.4 326.0,579.7 328.0,577.9 330.0,576.2 332.0,574.5 334.0,572.9 336.0,571.2 338.0,569.6 340.0,567.9 342.0,566.5 344.0,565.2 346.0,564.1 348.0,563.1 350.0,562.0 352.0,560.7 354.0,559.2 356.0,557.6 358.0,556.0 360.0,554.5 362.0,553.2 364.0,552.1 366.0,551.1 368.0,550.3 370.0,549.5 372.0,548.7 374.0,547.9 376.0,547.3 378.0,546.9 380.0,546.7 382.0,546.7 384.0,546.7 386.0,546.8 388.0,546.9 390.0,547.1 392.0,547.3 394.0,547.6 396.0,548.0 398.0,548.6 400.0,549.1 402.0,549.7 404.0,550.4 406.0,551.2 408.0,552.3 410.0,553.7 412.0,555.3 414.0,556.9 416.0,558.6 418.0,560.3 420.0,562.0 422.0,563.7 424.0,565.4 426.0,567.0 428.0,568.5 430.0,570.0 432.0,571.3 434.0,572.6 436.0,573.8 438.0,575.0 440.0,576.2 442.0,577.4 444.0,578.6 446.0,579.7 448.0,580.7 450.0,581.5 452.0,582.1 454.0,582.6 456.0,583.1 458.0,583.5 460.0,584.0 462.0,584.5 464.0,584.9 466.0,585.2 468.0,585.4 470.0,585.3 472.0,585.0 474.0,584.6 476.0,584.1 478.0,583.7 480.0,583.2 482.0,582.8 484.0,582.3 486.0,581.9 488.0,581.5 490.0,581.2 492.0,581.0 494.0,580.7 496.0,580.5 498.0,580.4 500.0,580.4 502.0,580.5 504.0,580.8 506.0,581.1 508.0,581.5 510.0,581.9 512.0,582.2 514.0,582.6 516.0,583.1 518.0,583.6 520.0,584.2 522.0,584.9 524.0,585.6 526.0,586.4 528.0,587.1 530.0,587.9 532.0,588.6 534.0,589.3 536.0,590.0 538.0,590.7 540.0,591.3 542.0,591.9 544.0,592.5 546.0,593.1 548.0,593.7 550.0,594.2 552.0,594.8 554.0,595.3 556.0,595.8 558.0,596.2 560.0,596.5 562.0,596.8 564.0,597.1 566.0,597.2 568.0,597.2 570.0,596.9 572.0,596.5 574.0,596.1 576.0,595.6 578.0,595.2 580.0,594.7 582.0,594.3 584.0,593.8 586.0,593.2 588.0,592.6 590.0,591.8 592.0,591.1 594.0,590.3 596.0,589.5 598.0,588.7 600.0,587.9 602.0,587.1 604.0,586.2 606.0,585.3 608.0,584.3 610.0,583.3 612.0,582.2 614.0,581.1 616.0,580.0 618.0,578.9 620.0,577.8 622.0,576.7 624.0,575.6 626.0,574.6 628.0,573.7 630.0,572.8 632.0,572.0 634.0,571.1 636.0,570.3 638.0,569.5 640.0,568.7 642.0,567.9 644.0,567.1 646.0,566.4 648.0,565.7 650.0,565.0 652.0,564.4 654.0,563.8 656.0,563.1 658.0,562.5 660.0,562.0 662.0,561.5 664.0,561.1 666.0,560.7 668.0,560.4 670.0,560.1 672.0,559.7 674.0,559.4 676.0,559.1 678.0,558.8 680.0,558.6 682.0,558.6 684.0,558.7 686.0,558.9 688.0,559.1 690.0,559.3 692.0,559.6 694.0,560.1 696.0,560.9 698.0,561.8 700.0,562.8 702.0,563.9 704.0,565.0 706.0,566.1 708.0,567.2 710.0,568.3 712.0,569.4 714.0,570.6 716.0,571.8 718.0,573.1 720.0,574.4 722.0,575.7 724.0,577.0 726.0,578.3 728.0,579.5 730.0,580.8 732.0,582.1 734.0,583.2 736.0,584.3 738.0,585.4 740.0,586.4 742.0,587.4 744.0,588.4 746.0,589.4 748.0,590.4 750.0,591.4 752.0,592.2 754.0,592.9 756.0,593.4 758.0,593.8 760.0,594.2 762.0,594.5 764.0,594.7 766.0,595.0 768.0,595.3 770.0,595.6 772.0,595.8 774.0,595.9 776.0,595.8 778.0,595.7 780.0,595.6 782.0,595.4 784.0,595.3 786.0,595.1 788.0,595.0 790.0,594.9 792.0,594.7 794.0,594.5 796.0,594.4 798.0,594.1 800.0,593.8 802.0,593.5 804.0,593.1 806.0,592.6 808.0,592.2 810.0,591.7 812.0,591.2 814.0,590.7 816.0,590.0 818.0,589.3 820.0,588.6 822.0,587.9 824.0,587.2 826.0,586.5 828.0,585.8 830.0,585.1 832.0,584.4 834.0,583.7 836.0,583.0 838.0,582.3 840.0,581.6 842.0,580.9 844.0,580.2 846.0,579.5 848.0,578.9 850.0,578.2 852.0,577.7 854.0,577.2 856.0,576.9 858.0,576.6 860.0,576.3 862.0,576.0 864.0,575.9 866.0,576.1 868.0,576.5 870.0,577.1 872.0,577.9 874.0,578.7 876.0,579.6 878.0,580.4 880.0,581.2 882.0,582.0 884.0,582.8 886.0,583.6 888.0,584.4 890.0,585.2 892.0,586.0 894.0,586.8 896.0,587.6 898.0,588.4 900.0,589.0 902.0,589.6 904.0,589.9 906.0,590.2 908.0,590.4 910.0,590.6 912.0,590.7 914.0,590.8 916.0,590.8 918.0,590.6 920.0,590.2 922.0,589.6 924.0,589.0 926.0,588.3 928.0,587.6 930.0,586.9 932.0,586.1 934.0,585.2 936.0,584.3 938.0,583.4 940.0,582.5 942.0,581.8 944.0,581.2 946.0,580.6 948.0,580.1 950.0,579.5 952.0,579.0 954.0,578.4 956.0,577.9 958.0,577.4 960.0,577.0 962.0,576.7 964.0,576.4 966.0,576.3 968.0,576.1 970.0,575.9 972.0,575.7 974.0,575.6 976.0,575.4 978.0,575.2 980.0,575.0 982.0,574.9 984.0,574.7 986.0,574.4 988.0,574.2 990.0,573.9 992.0,573.5 994.0,573.2 996.0,572.8 998.0,572.4 1000.0,572.0 1002.0,571.5 1004.0,570.9 1006.0,570.1 1008.0,569.2 1010.0,568.3 1012.0,567.4 1014.0,566.5 1016.0,565.6 1018.0,564.8 1020.0,564.1 1022.0,563.5 1024.0,563.0 1026.0,562.6 1028.0,562.1 1030.0,561.7 1032.0,561.2 1034.0,560.8 1036.0,560.4 1038.0,560.1 1040.0,559.9 1042.0,559.9 1044.0,560.0 1046.0,560.0 1048.0,560.1 1050.0,560.2 1052.0,560.3 1054.0,560.4 1056.0,560.5 1058.0,560.6 1060.0,560.7 1062.0,560.8 1064.0,560.9 1066.0,561.0 1068.0,561.1 1070.0,561.2 1072.0,561.3 1074.0,561.4 1076.0,561.4 1078.0,561.4 1080.0,561.2 1082.0,560.9 1084.0,560.6 1086.0,560.3 1088.0,559.9 1090.0,559.6 1092.0,559.3 1094.0,558.9 1096.0,558.5 1098.0,558.0 1100.0,557.4 1102.0,556.8 1104.0,556.1 1106.0,555.3 1108.0,554.6 1110.0,553.9 1112.0,553.2 1114.0,552.5 1116.0,551.8 1118.0,551.3 1120.0,550.7 1122.0,550.3 1124.0,549.9 1126.0,549.5 1128.0,549.1 1130.0,548.7 1132.0,548.3 1134.0,547.9 1136.0,547.6 1138.0,547.5 1140.0,547.5 1142.0,547.6 1144.0,547.8 1146.0,547.9 1148.0,548.1 1150.0,548.2 1152.0,548.4 1154.0,548.5 1156.0,548.7 1158.0,548.7 1160.0,548.8 1162.0,548.8 1164.0,548.8 1166.0,548.8 1168.0,548.8 1170.0,548.8 1172.0,548.8 1174.0,548.8 1176.0,548.8 1178.0,548.8 1180.0,548.8 1182.0,548.8 1184.0,548.8 1186.0,548.8 1188.0,548.8 1190.0,548.8 1192.0,548.8 1194.0,548.8 1196.0,548.8 1198.0,548.8 1200.0,548.8 1202.0,548.8 1204.0,548.8 1206.0,548.7 1208.0,548.7 1210.0,548.7 1212.0,548.7 1214.0,548.7 1216.0,548.6 1218.0,548.6 1220.0,548.6 1222.0,548.6 1224.0,548.6 1226.0,548.5 1228.0,548.5 1230.0,548.5 1232.0,548.5 1234.0,548.5 1236.0,548.5 1238.0,548.5 1240.0,548.6 1242.0,548.8 1244.0,549.0 1246.0,549.3 1248.0,549.5 1250.0,549.8 1252.0,550.0 1254.0,550.2 1256.0,550.5 1258.0,550.7 1260.0,551.0 1262.0,551.2 1264.0,551.5 1266.0,551.8 1268.0,552.0 1270.0,552.3 1272.0,552.6 1274.0,552.8 1276.0,553.1 1278.0,553.4 1280.0,553.6 1282.0,553.9 1284.0,554.2 1286.0,554.4 1288.0,554.8 1290.0,555.1 1292.0,555.5 1294.0,555.9 1296.0,556.3 1298.0,556.7 1300.0,557.1 1302.0,557.5 1304.0,557.9 1306.0,558.3 1308.0,558.8 1310.0,559.3 1312.0,559.8 1314.0,560.4 1316.0,560.9 1318.0,561.4 1320.0,562.0 1322.0,562.5 1324.0,563.1 1326.0,563.6 1328.0,564.1 1330.0,564.4 1332.0,564.7 1334.0,565.0 1336.0,565.1 1338.0,565.2 1340.0,565.3 1342.0,565.2 1344.0,565.0 1346.0,564.6 1348.0,564.2 1350.0,563.8 1352.0,563.3 1354.0,562.9 1356.0,562.4 1358.0,562.0 1360.0,561.5 1362.0,560.9 1364.0,560.4 1366.0,559.9 1368.0,559.4 1369.1,559.1" fill="none" stroke="#e6c35a" stroke-width="1.1"/>
<polyline points="56.0,576.4 58.0,575.7 60.0,575.0 62.0,574.3 64.0,573.5 66.0,572.7 68.0,571.7 70.0,570.6 72.0,569.4 74.0,568.3 76.0,567.2 78.0,566.5 80.0,566.1 82.0,565.9 84.0,565.8 86.0,565.7 88.0,565.8 90.0,565.9 92.0,566.2 94.0,566.5 96.0,567.1 98.0,567.9 100.0,568.9 102.0,569.9 104.0,570.9 106.0,571.8 108.0,572.8 110.0,573.6 112.0,574.5 114.0,575.3 116.0,576.1 118.0,576.9 120.0,577.8 122.0,578.6 124.0,579.4 126.0,580.2 128.0,581.1 130.0,582.3 132.0,583.8 134.0,585.4 136.0,587.0 138.0,588.4 140.0,589.7 142.0,590.8 144.0,591.8 146.0,592.8 148.0,593.8 150.0,594.7 152.0,595.6 154.0,596.5 156.0,597.3 158.0,598.0 160.0,598.3 162.0,598.3 164.0,598.3 166.0,598.2 168.0,598.1 170.0,597.8 172.0,597.5 174.0,597.2 176.0,596.9 178.0,596.7 180.0,596.7 182.0,596.8 184.0,596.9 186.0,597.1 188.0,597.2 190.0,597.4 192.0,597.5 194.0,597.7 196.0,597.9 198.0,598.0 200.0,598.2 202.0,598.4 204.0,598.6 206.0,598.8 208.0,598.9 210.0,599.0 212.0,599.0 214.0,598.9 216.0,598.9 218.0,598.8 220.0,598.7 222.0,598.6 224.0,598.6 226.0,598.5 228.0,598.4 230.0,598.3 232.0,598.2 234.0,598.1 236.0,598.0 238.0,597.9 240.0,597.9 242.0,597.7 244.0,597.6 246.0,597.4 248.0,597.2 250.0,597.0 252.0,596.7 254.0,596.5 256.0,596.3 258.0,596.1 260.0,595.9 262.0,595.8 264.0,595.8 266.0,595.8 268.0,595.9 270.0,595.9 272.0,596.0 274.0,596.0 276.0,596.0 278.0,595.9 280.0,595.7 282.0,595.5 284.0,595.2 286.0,595.0 288.0,594.8 290.0,594.5 292.0,594.1 294.0,593.4 296.0,592.5 298.0,591.5 300.0,590.5 302.0,589.5 304.0,588.5 306.0,587.5 308.0,586.5 310.0,585.5 312.0,584.2 314.0,582.6 316.0,580.7 318.0,578.7 320.0,576.7 322.0,574.7 324.0,572.7 326.0,570.7 328.0,568.7 330.0,566.7 332.0,564.7 334.0,562.7 336.0,560.8 338.0,559.0 340.0,557.4 342.0,555.7 344.0,554.0 346.0,552.4 348.0,551.1 350.0,550.1 352.0,549.3 354.0,548.6 356.0,547.9 358.0,547.3 360.0,546.9 362.0,546.6 364.0,546.3 366.0,546.0 368.0,545.7 370.0,545.4 372.0,545.2 374.0,545.1 376.0,545.3 378.0,545.5 380.0,545.8 382.0,546.1 384.0,546.4 386.0,546.7 388.0,547.1 390.0,547.9 392.0,549.2 394.0,550.7 396.0,552.2 398.0,553.8 400.0,555.4 402.0,557.2 404.0,559.1 406.0,561.0 408.0,562.8 410.0,564.7 412.0,566.6 414.0,568.4 416.0,569.9 418.0,571.2 420.0,572.4 422.0,573.6 424.0,574.8 426.0,576.0 428.0,577.2 430.0,578.3 432.0,579.4 434.0,580.4 436.0,581.2 438.0,581.9 440.0,582.7 442.0,583.4 444.0,584.1 446.0,584.9 448.0,585.6 450.0,586.3 452.0,586.9 454.0,587.1 456.0,587.0 458.0,586.9 460.0,586.5 462.0,585.9 464.0,584.9 466.0,583.9 468.0,582.9 470.0,581.9 472.0,580.9 474.0,580.0 476.0,579.3 478.0,579.1 480.0,579.2 482.0,579.4 484.0,579.6 486.0,579.8 488.0,580.0 490.0,580.2 492.0,580.4 494.0,580.7 496.0,580.9 498.0,581.2 500.0,581.4 502.0,581.7 504.0,582.1 506.0,582.8 508.0,583.5 510.0,584.3 512.0,585.1 514.0,585.9 516.0,586.6 518.0,587.4 520.0,588.1 522.0,588.8 524.0,589.5 526.0,590.2 528.0,591.0 530.0,591.7 532.0,592.4 534.0,593.1 536.0,593.8 538.0,594.6 540.0,595.3 542.0,596.0 544.0,596.5 546.0,596.8 548.0,597.0 550.0,597.2 552.0,597.4 554.0,597.5 556.0,597.5 558.0,597.3 560.0,597.0 562.0,596.8 564.0,596.5 566.0,596.2 568.0,595.7 570.0,595.2 572.0,594.5 574.0,593.9 576.0,593.3 578.0,592.7 580.0,592.0 582.0,591.4 584.0,590.7 586.0,590.0 588.0,589.2 590.0,588.5 592.0,587.7 594.0,587.0 596.0,586.2 598.0,585.5 600.0,584.7 602.0,584.0 604.0,583.2 606.0,582.2 608.0,581.0 610.0,579.5 612.0,578.0 614.0,576.4 616.0,574.8 618.0,573.3 620.0,571.7 622.0,570.2 624.0,568.7 626.0,567.3 628.0,566.4 630.0,565.7 632.0,565.0 634.0,564.3 636.0,563.6 638.0,563.0 640.0,562.4 642.0,561.9 644.0,561.4 646.0,561.0 648.0,560.7 650.0,560.4 652.0,560.2 654.0,560.0 656.0,559.7 658.0,559.4 660.0,559.0 662.0,558.6 664.0,558.2 666.0,557.7 668.0,557.3 670.0,556.9 672.0,556.6 674.0,556.6 676.0,556.9 678.0,557.3 680.0,557.8 682.0,558.7 684.0,559.8 686.0,561.0 688.0,562.2 690.0,563.3 692.0,564.2 694.0,565.0 696.0,565.8 698.0,566.7 700.0,567.6 702.0,568.9 704.0,570.4 706.0,571.9 708.0,573.3 710.0,574.6 712.0,575.8 714.0,576.9 716.0,578.1 718.0,579.3 720.0,580.4 722.0,581.6 724.0,582.8 726.0,584.0 728.0,585.2 730.0,586.5 732.0,587.7 734.0,588.9 736.0,590.1 738.0,591.3 740.0,592.4 742.0,593.5 744.0,594.6 746.0,595.5 748.0,596.2 750.0,596.5 752.0,596.5 754.0,596.5 756.0,596.5 758.0,596.5 760.0,596.5 762.0,596.5 764.0,596.4 766.0,596.3 768.0,596.2 770.0,596.1 772.0,595.9 774.0,595.8 776.0,595.7 778.0,595.5 780.0,595.4 782.0,595.2 784.0,595.0 786.0,594.7 788.0,594.4 790.0,594.1 792.0,593.7 794.0,593.4 796.0,593.0 798.0,592.5 800.0,591.6 802.0,590.3 804.0,588.9 806.0,587.5 808.0,586.0 810.0,584.7 812.0,583.5 814.0,582.8 816.0,582.6 818.0,582.5 820.0,582.4 822.0,582.2 824.0,581.8 826.0,581.2 828.0,580.6 830.0,580.0 832.0,579.4 834.0,578.7 836.0,578.1 838.0,577.5 840.0,576.8 842.0,576.2 844.0,575.5 846.0,574.9 848.0,574.2 850.0,573.9 852.0,574.2 854.0,574.8 856.0,575.4 858.0,576.1 860.0,576.8 862.0,577.6 864.0,578.9 866.0,580.3 868.0,581.7 870.0,583.1 872.0,584.5 874.0,586.0 876.0,587.3 878.0,588.3 880.0,588.9 882.0,589.2 884.0,589.5 886.0,589.8 888.0,590.1 890.0,590.4 892.0,590.6 894.0,590.7 896.0,590.8 898.0,590.8 900.0,590.9 902.0,591.0 904.0,591.1 906.0,591.0 908.0,590.6 910.0,589.7 912.0,588.7 914.0,587.7 916.0,586.6 918.0,585.5 920.0,584.5 922.0,583.6 924.0,582.8 926.0,582.1 928.0,581.4 930.0,580.6 932.0,579.9 934.0,579.2 936.0,578.7 938.0,578.3 940.0,578.0 942.0,577.7 944.0,577.5 946.0,577.2 948.0,576.9 950.0,576.7 952.0,576.4 954.0,576.3 956.0,576.2 958.0,576.1 960.0,575.9 962.0,575.8 964.0,575.7 966.0,575.6 968.0,575.5 970.0,575.4 972.0,575.2 974.0,575.1 976.0,574.9 978.0,574.8 980.0,574.6 982.0,574.5 984.0,574.3 986.0,574.1 988.0,573.8 990.0,573.3 992.0,572.7 994.0,572.1 996.0,571.5 998.0,570.8 1000.0,569.9 1002.0,568.7 1004.0,567.4 1006.0,566.2 1008.0,564.9 1010.0,563.8 1012.0,562.9 1014.0,562.2 1016.0,561.6 1018.0,561.1 1020.0,560.6 1022.0,560.0 1024.0,559.5 1026.0,559.1 1028.0,558.9 1030.0,559.0 1032.0,559.1 1034.0,559.3 1036.0,559.5 1038.0,559.7 1040.0,560.1 1042.0,560.6 1044.0,561.1 1046.0,561.6 1048.0,561.9 1050.0,562.1 1052.0,562.2 1054.0,562.2 1056.0,562.2 1058.0,562.2 1060.0,562.1 1062.0,562.1 1064.0,562.0 1066.0,561.9 1068.0,561.8 1070.0,561.8 1072.0,561.7 1074.0,561.5 1076.0,561.1 1078.0,560.6 1080.0,560.1 1082.0,559.6 1084.0,559.2 1086.0,558.7 1088.0,558.2 1090.0,557.6 1092.0,557.0 1094.0,556.3 1096.0,555.6 1098.0,554.9 1100.0,554.2 1102.0,553.4 1104.0,552.3 1106.0,551.0 1108.0,549.9 1110.0,549.0 1112.0,548.4 1114.0,548.1 1116.0,547.7 1118.0,547.4 1120.0,547.1 1122.0,547.0 1124.0,547.0 1126.0,547.2 1128.0,547.4 1130.0,547.5 1132.0,547.7 1134.0,547.8 1136.0,548.0 1138.0,548.1 1140.0,548.2 1142.0,548.4 1144.0,548.5 1146.0,548.6 1148.0,548.8 1150.0,549.1 1152.0,549.5 1154.0,550.0 1156.0,550.5 1158.0,550.7 1160.0,550.8 1162.0,550.8 1164.0,550.8 1166.0,550.8 1168.0,550.8 1170.0,550.6 1172.0,550.2 1174.0,549.8 1176.0,549.2 1178.0,548.7 1180.0,548.3 1182.0,548.0 1184.0,548.0 1186.0,548.0 1188.0,548.2 1190.0,548.3 1192.0,548.4 1194.0,548.5 1196.0,548.6 1198.0,548.7 1200.0,548.8 1202.0,548.9 1204.0,548.9 1206.0,549.0 1208.0,549.0 1210.0,549.1 1212.0,549.1 1214.0,549.1 1216.0,549.0 1218.0,548.7 1220.0,548.4 1222.0,548.1 1224.0,547.7 1226.0,547.5 1228.0,547.6 1230.0,548.0 1232.0,548.4 1234.0,549.0 1236.0,549.5 1238.0,550.0 1240.0,550.5 1242.0,550.9 1244.0,551.1 1246.0,551.2 1248.0,551.2 1250.0,551.2 1252.0,551.2 1254.0,551.2 1256.0,551.2 1258.0,551.3 1260.0,551.5 1262.0,551.9 1264.0,552.3 1266.0,552.7 1268.0,553.0 1270.0,553.4 1272.0,553.8 1274.0,554.3 1276.0,554.8 1278.0,555.3 1280.0,555.9 1282.0,556.4 1284.0,557.0 1286.0,557.5 1288.0,558.1 1290.0,558.5 1292.0,558.6 1294.0,558.6 1296.0,558.5 1298.0,558.4 1300.0,558.4 1302.0,558.7 1304.0,559.4 1306.0,560.4 1308.0,561.5 1310.0,562.5 1312.0,563.6 1314.0,564.6 1316.0,565.4 1318.0,565.8 1320.0,566.0 1322.0,566.1 1324.0,566.3 1326.0,566.4 1328.0,566.3 1330.0,565.9 1332.0,565.4 1334.0,564.8 1336.0,564.2 1338.0,563.6 1340.0,563.0 1342.0,562.4 1344.0,561.9 1346.0,561.3 1348.0,560.7 1350.0,560.1 1352.0,559.7 1354.0,559.3 1356.0,559.0 1358.0,558.7 1360.0,558.4 1362.0,557.7 1364.0,556.9 1366.0,555.9 1368.0,554.9 1369.1,554.3" fill="none" stroke="#5d6bd0" stroke-width="1.1"/>
<g stroke="#e2e4e8" stroke-width="1" fill="none">
<line x1="5" y1="10.5" x2="1518" y2="10.5"/>
<line x1="5.5" y1="10" x2="5.5" y2="666"/>
<line x1="55.5" y1="10" x2="55.5" y2="666"/>
<line x1="5" y1="665.5" x2="1521" y2="665.5"/>
<line x1="56" y1="46.5" x2="1518" y2="46.5"/>
<line x1="56" y1="497.5" x2="1518" y2="497.5"/>
<line x1="56" y1="536.5" x2="1518" y2="536.5"/>
<line x1="56" y1="605.5" x2="1518" y2="605.5"/>
<line x1="56" y1="631.5" x2="1521" y2="631.5"/>
<line x1="1459.5" y1="46" x2="1459.5" y2="631"/>
<line x1="149.5" y1="11" x2="149.5" y2="46"/>
<line x1="185.5" y1="11" x2="185.5" y2="46"/>
<line x1="221.5" y1="11" x2="221.5" y2="46"/>
<line x1="315.5" y1="11" x2="315.5" y2="46"/>
<line x1="416.5" y1="11" x2="416.5" y2="46"/>
<line x1="474.5" y1="11" x2="474.5" y2="46"/>
<line x1="1325.5" y1="11" x2="1325.5" y2="46"/>
<line x1="1362.5" y1="11" x2="1362.5" y2="46"/>
<line x1="1446.5" y1="11" x2="1446.5" y2="46"/>
<line x1="1482.5" y1="11" x2="1482.5" y2="46"/>
<line x1="6" y1="289.5" x2="55" y2="289.5"/>
<line x1="6" y1="369.5" x2="55" y2="369.5"/>
<line x1="6" y1="514.5" x2="55" y2="514.5"/>
<line x1="203.5" y1="632" x2="203.5" y2="665"/>
<line x1="447.5" y1="640" x2="447.5" y2="660"/>
<line x1="1410.5" y1="640" x2="1410.5" y2="660"/>
<line x1="1460" y1="61.5" x2="1464" y2="61.5"/>
<line x1="1460" y1="100.5" x2="1464" y2="100.5"/>
<line x1="1460" y1="139.5" x2="1464" y2="139.5"/>
<line x1="1460" y1="177.5" x2="1464" y2="177.5"/>
<line x1="1460" y1="255.5" x2="1464" y2="255.5"/>
<line x1="1460" y1="293.5" x2="1464" y2="293.5"/>
<line x1="1460" y1="332.5" x2="1464" y2="332.5"/>
<line x1="1460" y1="371.5" x2="1464" y2="371.5"/>
<line x1="1460" y1="409.5" x2="1464" y2="409.5"/>
<line x1="1460" y1="448.5" x2="1464" y2="448.5"/>
<line x1="1460" y1="487.5" x2="1464" y2="487.5"/>
<line x1="1460" y1="572.5" x2="1464" y2="572.5"/>
<line x1="88.5" y1="606" x2="88.5" y2="610"/>
<line x1="217.5" y1="606" x2="217.5" y2="610"/>
<line x1="357.5" y1="606" x2="357.5" y2="610"/>
<line x1="492.5" y1="606" x2="492.5" y2="610"/>
<line x1="627.5" y1="606" x2="627.5" y2="610"/>
<line x1="768.5" y1="606" x2="768.5" y2="610"/>
<line x1="902.5" y1="606" x2="902.5" y2="610"/>
<line x1="1037.5" y1="606" x2="1037.5" y2="610"/>
<line x1="1171.5" y1="606" x2="1171.5" y2="610"/>
<line x1="1301.5" y1="606" x2="1301.5" y2="610"/>
<line x1="1441.5" y1="606" x2="1441.5" y2="610"/>
</g>
<rect x="1409" y="203.4" width="105.2" height="16.4" rx="2" fill="#26a69a"/>
<g stroke-width="1.3" fill="none"><line x1="30.7" y1="22.3" x2="30.7" y2="29.8" stroke="#4677b8"/><line x1="30.7" y1="37.4" x2="30.7" y2="44.5" stroke="#4677b8"/><line x1="20" y1="33.8" x2="26.8" y2="33.8" stroke="#86b4e4"/><line x1="34.4" y1="33.8" x2="41.4" y2="33.8" stroke="#86b4e4"/></g>
<g stroke="#2a2e39" stroke-width="1.1" fill="none" stroke-linecap="round" stroke-linejoin="round">
<line x1="23.5" y1="73.6" x2="36.6" y2="60.2"/><circle cx="22.3" cy="74.9" r="1.8"/><circle cx="37.9" cy="58.9" r="1.8"/>
<circle cx="22.3" cy="97.7" r="1.7"/><circle cx="22.3" cy="108.7" r="1.7"/><circle cx="32.6" cy="108.7" r="1.7"/>
<line x1="23.6" y1="96.4" x2="29" y2="91.5"/><line x1="23.6" y1="107.4" x2="38.5" y2="95"/><line x1="23.5" y1="99" x2="31.4" y2="107.4"/><line x1="33.9" y1="107.4" x2="39.5" y2="102"/>
<path d="M20.5 141.5 C22 136 25 131.5 29 130.5 C32.5 130 34 133 33 136 C31.5 140 26 141.5 20.5 141.5 Z"/><path d="M33.5 129.5 C35 131 37.5 130.5 39.5 126"/>
</g>
<g stroke="#2a2e39" stroke-width="1.1" fill="none" stroke-linecap="round" stroke-linejoin="round">
<circle cx="22.5" cy="207.8" r="1.8"/><circle cx="24.8" cy="193.6" r="1.8"/><circle cx="36.6" cy="193.6" r="1.8"/><circle cx="39" cy="207.8" r="1.8"/><circle cx="30.7" cy="200.8" r="1.2"/>
<line x1="23" y1="206" x2="24.6" y2="195.4"/><line x1="26.3" y1="194.6" x2="37.7" y2="206.4"/><line x1="35.2" y1="194.6" x2="24" y2="206.5"/><line x1="36.8" y1="195.4" x2="38.6" y2="206"/>
<circle cx="22" cy="226.8" r="1.7"/><line x1="23.7" y1="226.8" x2="39.5" y2="226.8"/>
<circle cx="22" cy="235.5" r="1.7"/><circle cx="38" cy="235.5" r="1.7"/><line x1="23.7" y1="235.5" x2="36.3" y2="235.5"/>
<circle cx="22" cy="241.8" r="1.7"/><line x1="23.7" y1="241.8" x2="39.5" y2="241.8"/>
<line x1="24.5" y1="233" x2="38" y2="229" stroke-dasharray="1.5,2"/>
<circle cx="30.7" cy="267.6" r="7.6"/><path d="M27 270 C28.5 272.3 32.9 272.3 34.4 270"/>
<circle cx="28" cy="265.3" r="0.5" fill="#2a2e39"/><circle cx="33.4" cy="265.3" r="0.5" fill="#2a2e39"/>
<path d="M20.3 317.6 L35.6 304.6 L39.6 309.3 L24.3 322.3 Z"/><path d="M24.5 314 l1.6 1.9 M27.3 311.6 l1.6 1.9 M30.1 309.2 l1.6 1.9 M32.9 306.8 l1.6 1.9"/>
<circle cx="28.6" cy="345.2" r="7.3"/><line x1="33.8" y1="350.4" x2="37.6" y2="354"/><line x1="25.2" y1="345.2" x2="32" y2="345.2"/><line x1="28.6" y1="341.8" x2="28.6" y2="348.6"/>
<path d="M23 400.5 L23 391.5 C23 381.5 38.4 381.5 38.4 391.5 L38.4 400.5 L34.6 400.5 L34.6 391.5 C34.6 386.5 26.8 386.5 26.8 391.5 L26.8 400.5 Z"/><line x1="23" y1="397.5" x2="26.8" y2="397.5"/><line x1="34.6" y1="397.5" x2="38.4" y2="397.5"/>
<path d="M21.5 428.5 L22.3 424 L31.2 415.1 L34.4 418.3 L25.5 427.2 Z"/><line x1="29.5" y1="416.8" x2="32.7" y2="420"/>
<rect x="33" y="428.5" width="6.5" height="5.5" rx="0.8"/><path d="M34.4 428.5 v-1.6 c0 -2.4 3.7 -2.4 3.7 0 v1.6"/>
<rect x="23.4" y="459.5" width="14.6" height="10" rx="1.5"/><path d="M26.8 459.5 v-3.6 c0 -5.2 7.6 -5.2 7.6 -1"/><line x1="30.7" y1="463" x2="30.7" y2="465.5"/>
<path d="M20.5 490 C25 483 36 483 40.5 490 C36 497 25 497 20.5 490 Z"/><circle cx="30.5" cy="490" r="3.3"/>
<path d="M33 500 l3 -3 M35 501 l5 -4.5" stroke-width="1"/>
<path d="M22.5 531.5 H38.8 M27.5 531.5 V529.3 H34 V531.5 M24.2 531.5 L25 546.2 H36.4 L37.2 531.5 M28.6 535 V542.5 M32.8 535 V542.5"/>
</g>
<path d="M-0.5 342.3 L4 348.2 L-0.5 354.1" stroke="#2a2e39" stroke-width="1.8" fill="none"/>
<rect x="50.5" y="590.5" width="8" height="23" rx="3" fill="#fff" stroke="#e0e3eb"/><path d="M55.6 598.5 L53.4 601.8 L55.6 605" stroke="#9598a1" stroke-width="1" fill="none"/>
<rect x="65.5" y="142.6" width="26" height="17.8" rx="4" fill="#fff" fill-opacity="0.8" stroke="#d6d9e0"/><path d="M75 153.8 L78.3 150.6 L81.6 153.8" stroke="#2a2e39" stroke-width="1.5" fill="none"/>
<path d="M762.5 675 L768.6 669.5 L774.7 675" stroke="#2a2e39" stroke-width="2" fill="none"/>
<circle cx="1522" cy="647" r="19" fill="#e4e5e8"/><path d="M1518.5 639.5 L1514.5 646.5 L1518.5 653.5" stroke="#3c7ddc" stroke-width="1.4" fill="none"/>
<g stroke="#2a2e39" stroke-width="1.2" fill="none" stroke-linecap="round" stroke-linejoin="round">
<g transform="translate(1.3,0)"><rect x="197.3" y="23.5" width="3.4" height="11"/><line x1="199" y1="20.3" x2="199" y2="23.5"/><line x1="199" y1="34.5" x2="199" y2="37.7"/>
<rect x="205.3" y="25.8" width="3" height="6.4"/><line x1="206.8" y1="22.5" x2="206.8" y2="25.8"/><line x1="206.8" y1="32.2" x2="206.8" y2="35.5"/></g>
<circle cx="238.5" cy="29.1" r="8.3"/><line x1="238.5" y1="24.6" x2="238.5" y2="33.6"/><line x1="234" y1="29.1" x2="243" y2="29.1"/>
<path d="M335.5 22.6 C332.5 21.2 331 23 331 25.5 L331 33 C331 35.5 329.5 36.7 327.6 35.6"/><line x1="328.5" y1="28" x2="334" y2="28"/><path d="M335.5 31 L340.2 35.6 M340.2 31 L335.5 35.6"/>
<path d="M425.5 28 L430 24.4 M425.5 28 L430 31.6 M425.5 28 H434 C436.5 28 438 30 438 33.4"/>
</g>
<path d="M463.5 28 L459 24.4 M463.5 28 L459 31.6 M463.5 28 H455 C452.5 28 451.5 30 451.5 33.4" stroke="#c5c8cf" stroke-width="1.2" fill="none" stroke-linecap="round"/>
<g stroke="#4a4d57" stroke-width="1.3" fill="none" stroke-linecap="round" stroke-linejoin="round">
<rect x="1336.6" y="22" width="16.6" height="14.8" rx="2"/>
<path d="M1372 35.5 C1368.5 35.5 1369 30 1372.5 29 C1373.5 24.5 1378 21.5 1382 22.5 C1385.5 23.5 1387.5 26 1388.5 29.5 C1391.5 30 1392.5 35 1389 35.5 Z" stroke-dasharray="2.2,1.8"/>
<path d="M1433.2 27.4 L1436.7 30.5 L1440.2 27.4"/>
<path d="M1491.2 25.2 Q1491.2 23.5 1493 23.5 H1495.5 L1497 21.6 H1504 L1505.5 23.5 H1508 Q1509.8 23.5 1509.8 25.2 V34 Q1509.8 35.6 1508 35.6 H1493 Q1491.2 35.6 1491.2 34 Z"/><circle cx="1500.5" cy="29.5" r="3.4"/>
</g>
<path d="M1471.05 27.04 L1473.46 27.28 L1473.46 30.52 L1471.05 30.76 L1470.41 32.28 L1471.95 34.16 L1469.66 36.45 L1467.78 34.91 L1466.26 35.55 L1466.02 37.96 L1462.78 37.96 L1462.54 35.55 L1461.02 34.91 L1459.14 36.45 L1456.85 34.16 L1458.39 32.28 L1457.75 30.76 L1455.34 30.52 L1455.34 27.28 L1457.75 27.04 L1458.39 25.52 L1456.85 23.64 L1459.14 21.35 L1461.02 22.89 L1462.54 22.25 L1462.78 19.84 L1466.02 19.84 L1466.26 22.25 L1467.78 22.89 L1469.66 21.35 L1471.95 23.64 L1470.41 25.52 Z" stroke="#4a4d57" stroke-width="1.3" fill="none" stroke-linejoin="round"/><circle cx="1464.4" cy="28.9" r="2.7" stroke="#4a4d57" stroke-width="1.3" fill="none"/>
<path d="M1490.10 612.90 L1488.80 610.90 L1487.50 612.90 Z" fill="#3a3d46"/><path d="M1493.40 615.34 L1493.89 613.01 L1491.56 613.50 Z" fill="#3a3d46"/><path d="M1494.00 619.40 L1496.00 618.10 L1494.00 616.80 Z" fill="#3a3d46"/><path d="M1491.56 622.70 L1493.89 623.19 L1493.40 620.86 Z" fill="#3a3d46"/><path d="M1487.50 623.30 L1488.80 625.30 L1490.10 623.30 Z" fill="#3a3d46"/><path d="M1484.20 620.86 L1483.71 623.19 L1486.04 622.70 Z" fill="#3a3d46"/><path d="M1483.60 616.80 L1481.60 618.10 L1483.60 619.40 Z" fill="#3a3d46"/><path d="M1486.04 613.50 L1483.71 613.01 L1484.20 615.34 Z" fill="#3a3d46"/><circle cx="1488.8" cy="618.1" r="4.9" stroke="#3a3d46" stroke-width="1.5" fill="none"/>
<g stroke="#2a2e39" stroke-width="1.2" fill="none" stroke-linecap="round"><path d="M463.5 646 H477.5 V655.5 H470.5 M463.5 646 V650 M463.5 648.8 H477.5"/><line x1="466.5" y1="643.5" x2="466.5" y2="646"/><line x1="474.5" y1="643.5" x2="474.5" y2="646"/><path d="M462 653 H468.5 M466.3 650.8 L468.5 653 L466.3 655.2"/></g>
<circle cx="167.3" cy="62.5" r="7" fill="#26a69a" fill-opacity="0.15"/><circle cx="167.3" cy="62.5" r="3.8" fill="#1e9488"/>
<text x="65.5" y="33.4" font-size="12" fill="#131722" font-weight="bold" text-anchor="start" textLength="46.7" lengthAdjust="spacingAndGlyphs">EURUSD</text>
<text x="163.8" y="33.8" font-size="11.6" fill="#44474f" font-weight="normal" text-anchor="start" textLength="7.3" lengthAdjust="spacingAndGlyphs">D</text>
<text x="255" y="33.9" font-size="12.6" fill="#34373f" font-weight="normal" text-anchor="start" textLength="50.5" lengthAdjust="spacingAndGlyphs">Compare</text>
<text x="349.6" y="33.9" font-size="12.6" fill="#34373f" font-weight="normal" text-anchor="start" textLength="56.4" lengthAdjust="spacingAndGlyphs">Indicators</text>
<text x="1395.6" y="33.8" font-size="12.6" fill="#34373f" font-weight="normal" text-anchor="start" textLength="25.5" lengthAdjust="spacingAndGlyphs">Save</text>
<text x="65.5" y="67.8" font-size="14.2" fill="#131722" font-weight="normal" text-anchor="start" textLength="79.7" lengthAdjust="spacingAndGlyphs">EURUSD · 1D</text>
<text x="190.1" y="68.4" font-size="12" fill="#26a69a" font-weight="normal" text-anchor="start" textLength="50.7" lengthAdjust="spacingAndGlyphs"><tspan fill="#787b86">O</tspan><tspan fill="#26a69a">1.08214</tspan></text>
<text x="247.5" y="68.4" font-size="12" fill="#26a69a" font-weight="normal" text-anchor="start" textLength="50.5" lengthAdjust="spacingAndGlyphs"><tspan fill="#787b86">H</tspan><tspan fill="#26a69a">1.08334</tspan></text>
<text x="304.7" y="68.4" font-size="12" fill="#26a69a" font-weight="normal" text-anchor="start" textLength="47.9" lengthAdjust="spacingAndGlyphs"><tspan fill="#787b86">L</tspan><tspan fill="#26a69a">1.08057</tspan></text>
<text x="359.3" y="68.4" font-size="12" fill="#26a69a" font-weight="normal" text-anchor="start" textLength="49.8" lengthAdjust="spacingAndGlyphs"><tspan fill="#787b86">C</tspan><tspan fill="#26a69a">1.08264</tspan></text>
<text x="415.8" y="68.4" font-size="12" fill="#26a69a" font-weight="normal" text-anchor="start" textLength="97.2" lengthAdjust="spacingAndGlyphs">+0.00040 (+0.04%)</text>
<text x="65.7" y="88.8" font-size="11.7" fill="#4c4f59" font-weight="normal" text-anchor="start" textLength="78.6" lengthAdjust="spacingAndGlyphs">EMA 21 close 0</text>
<text x="152.7" y="88.8" font-size="11.7" fill="#4fc0d8" font-weight="normal" text-anchor="start" textLength="39.9" lengthAdjust="spacingAndGlyphs">1.07061</text>
<text x="65.7" y="111" font-size="11.7" fill="#4c4f59" font-weight="normal" text-anchor="start" textLength="84.5" lengthAdjust="spacingAndGlyphs">EMA 200 close 0</text>
<text x="158.6" y="111" font-size="11.7" fill="#4e9a5a" font-weight="normal" text-anchor="start" textLength="41.2" lengthAdjust="spacingAndGlyphs">1.04129</text>
<text x="65.7" y="132.9" font-size="11.7" fill="#4c4f59" font-weight="normal" text-anchor="start" textLength="84.5" lengthAdjust="spacingAndGlyphs">EMA 100 close 0</text>
<text x="158.6" y="132.9" font-size="11.7" fill="#f2c04e" font-weight="normal" text-anchor="start" textLength="41.2" lengthAdjust="spacingAndGlyphs">1.04055</text>
<g stroke="#000" stroke-width="0.45">
<text x="580.8" y="126.7" font-size="22.5" fill="#000" font-weight="bold" text-anchor="start" textLength="481" lengthAdjust="spacingAndGlyphs">Grafico: EUR/USD Daily / Fonte: ActivTrader</text>
</g>
<text x="64.9" y="517.1" font-size="11.7" fill="#4c4f59" font-weight="normal" text-anchor="start" textLength="65.7" lengthAdjust="spacingAndGlyphs">Stoch 10 6 3</text>
<text x="137.9" y="517.1" font-size="11.7" fill="#4f9de8" font-weight="normal" text-anchor="start" textLength="28.9" lengthAdjust="spacingAndGlyphs">90.86</text>
<text x="172.4" y="517.1" font-size="11.7" fill="#ef935a" font-weight="normal" text-anchor="start" textLength="30.6" lengthAdjust="spacingAndGlyphs">91.30</text>
<text x="64.9" y="556.7" font-size="11.7" fill="#4c4f59" font-weight="normal" text-anchor="start" textLength="72" lengthAdjust="spacingAndGlyphs">Stoch 20 12 6</text>
<text x="144.4" y="556.7" font-size="11.7" fill="#5263cf" font-weight="normal" text-anchor="start" textLength="29.6" lengthAdjust="spacingAndGlyphs">75.15</text>
<text x="179.3" y="556.7" font-size="11.7" fill="#e9bf3f" font-weight="normal" text-anchor="start" textLength="30.2" lengthAdjust="spacingAndGlyphs">68.44</text>
<text x="1469.8" y="65.7" font-size="10.5" fill="#3e414b" font-weight="normal" text-anchor="start" textLength="38" lengthAdjust="spacingAndGlyphs">1.16000</text>
<text x="1469.8" y="104.3" font-size="10.5" fill="#3e414b" font-weight="normal" text-anchor="start" textLength="38" lengthAdjust="spacingAndGlyphs">1.14000</text>
<text x="1469.8" y="142.9" font-size="10.5" fill="#3e414b" font-weight="normal" text-anchor="start" textLength="38" lengthAdjust="spacingAndGlyphs">1.12000</text>
<text x="1469.8" y="181.5" font-size="10.5" fill="#3e414b" font-weight="normal" text-anchor="start" textLength="38" lengthAdjust="spacingAndGlyphs">1.10000</text>
<text x="1469.8" y="258.7" font-size="10.5" fill="#3e414b" font-weight="normal" text-anchor="start" textLength="38" lengthAdjust="spacingAndGlyphs">1.06000</text>
<text x="1469.8" y="297.3" font-size="10.5" fill="#3e414b" font-weight="normal" text-anchor="start" textLength="38" lengthAdjust="spacingAndGlyphs">1.04000</text>
<text x="1469.8" y="335.9" font-size="10.5" fill="#3e414b" font-weight="normal" text-anchor="start" textLength="38" lengthAdjust="spacingAndGlyphs">1.02000</text>
<text x="1469.8" y="374.5" font-size="10.5" fill="#3e414b" font-weight="normal" text-anchor="start" textLength="38" lengthAdjust="spacingAndGlyphs">1.00000</text>
<text x="1469.8" y="413.1" font-size="10.5" fill="#3e414b" font-weight="normal" text-anchor="start" textLength="38" lengthAdjust="spacingAndGlyphs">0.98000</text>
<text x="1469.8" y="451.7" font-size="10.5" fill="#3e414b" font-weight="normal" text-anchor="start" textLength="38" lengthAdjust="spacingAndGlyphs">0.96000</text>
<text x="1469.8" y="490.3" font-size="10.5" fill="#3e414b" font-weight="normal" text-anchor="start" textLength="38" lengthAdjust="spacingAndGlyphs">0.94000</text>
<clipPath id="cp1"><rect x="1460" y="498" width="61" height="38"/></clipPath>
<g clip-path="url(#cp1)">
<text x="1469.8" y="502.8" font-size="10.5" fill="#3e414b" font-weight="normal" text-anchor="start" textLength="32.5" lengthAdjust="spacingAndGlyphs">100.00</text>
<text x="1469.8" y="539.2" font-size="10.5" fill="#3e414b" font-weight="normal" text-anchor="start" textLength="21" lengthAdjust="spacingAndGlyphs">0.00</text>
</g>
<text x="1469.8" y="576" font-size="10.5" fill="#3e414b" font-weight="normal" text-anchor="start" textLength="27" lengthAdjust="spacingAndGlyphs">50.00</text>
<text x="79.1" y="622.5" font-size="11" fill="#3e414b" font-weight="normal" text-anchor="start" textLength="17" lengthAdjust="spacingAndGlyphs">Apr</text>
<text x="207.8" y="622.5" font-size="11" fill="#3e414b" font-weight="normal" text-anchor="start" textLength="19.7" lengthAdjust="spacingAndGlyphs">May</text>
<text x="349.2" y="622.5" font-size="11" fill="#3e414b" font-weight="normal" text-anchor="start" textLength="17" lengthAdjust="spacingAndGlyphs">Jun</text>
<text x="485.0" y="622.5" font-size="11" fill="#3e414b" font-weight="normal" text-anchor="start" textLength="14.8" lengthAdjust="spacingAndGlyphs">Jul</text>
<text x="618.5" y="622.5" font-size="11" fill="#3e414b" font-weight="normal" text-anchor="start" textLength="18" lengthAdjust="spacingAndGlyphs">Aug</text>
<text x="758.2" y="622.5" font-size="11" fill="#3e414b" font-weight="normal" text-anchor="start" textLength="18" lengthAdjust="spacingAndGlyphs">Sep</text>
<text x="893.0" y="622.5" font-size="11" fill="#3e414b" font-weight="normal" text-anchor="start" textLength="17.4" lengthAdjust="spacingAndGlyphs">Oct</text>
<text x="1027.7" y="622.5" font-size="11" fill="#3e414b" font-weight="normal" text-anchor="start" textLength="18.8" lengthAdjust="spacingAndGlyphs">Nov</text>
<text x="1162.4" y="622.5" font-size="11" fill="#3e414b" font-weight="normal" text-anchor="start" textLength="18.3" lengthAdjust="spacingAndGlyphs">Dec</text>
<text x="1289" y="622.5" font-size="11" fill="#2a2d36" font-weight="bold" text-anchor="start" textLength="24.4" lengthAdjust="spacingAndGlyphs">2023</text>
<text x="1432" y="622.5" font-size="11" fill="#3e414b" font-weight="normal" text-anchor="start" textLength="17.8" lengthAdjust="spacingAndGlyphs">Feb</text>
<text x="71.6" y="652" font-size="11.2" fill="#5d606b" font-weight="normal" text-anchor="start" textLength="119.7" lengthAdjust="spacingAndGlyphs">Powered by <tspan fill="#2962ff" fill-opacity="0.75">TradingView</tspan></text>
<text x="220.7" y="654.2" font-size="12" fill="#131722" font-weight="normal" text-anchor="start" textLength="12.8" lengthAdjust="spacingAndGlyphs">1D</text>
<text x="247.3" y="654.2" font-size="12" fill="#131722" font-weight="normal" text-anchor="start" textLength="13.8" lengthAdjust="spacingAndGlyphs">5D</text>
<text x="275.9" y="654.2" font-size="12" fill="#131722" font-weight="normal" text-anchor="start" textLength="14.4" lengthAdjust="spacingAndGlyphs">1M</text>
<text x="304.1" y="654.2" font-size="12" fill="#131722" font-weight="normal" text-anchor="start" textLength="15.2" lengthAdjust="spacingAndGlyphs">3M</text>
<text x="332.5" y="654.2" font-size="12" fill="#131722" font-weight="normal" text-anchor="start" textLength="15.8" lengthAdjust="spacingAndGlyphs">6M</text>
<text x="362.1" y="654.2" font-size="12" fill="#131722" font-weight="normal" text-anchor="start" textLength="13.4" lengthAdjust="spacingAndGlyphs">1Y</text>
<text x="389.3" y="654.2" font-size="12" fill="#131722" font-weight="normal" text-anchor="start" textLength="13.5" lengthAdjust="spacingAndGlyphs">5Y</text>
<text x="416.6" y="654.2" font-size="12" fill="#131722" font-weight="normal" text-anchor="start" textLength="14.2" lengthAdjust="spacingAndGlyphs">All</text>
<text x="1294.2" y="654.3" font-size="12" fill="#131722" font-weight="normal" text-anchor="start" textLength="100.9" lengthAdjust="spacingAndGlyphs">06:35:26 (UTC+1)</text>
<text x="1426.8" y="654.3" font-size="12.5" fill="#131722" font-weight="normal" text-anchor="start" textLength="10.9" lengthAdjust="spacingAndGlyphs">%</text>
<text x="1452.5" y="654.3" font-size="12.5" fill="#131722" font-weight="normal" text-anchor="start" textLength="15.9" lengthAdjust="spacingAndGlyphs">log</text>
<text x="1482.2" y="654.3" font-size="12.5" fill="#4f8fdc" font-weight="normal" text-anchor="start" textLength="18.4" lengthAdjust="spacingAndGlyphs">aut</text>
<text x="1414.7" y="215.8" font-size="10.8" fill="#ffffff" font-weight="bold" text-anchor="start" textLength="93" lengthAdjust="spacingAndGlyphs">EURUSD − 1.08264</text>
<text x="30.7" y="175.8" font-size="22" fill="#2a2e39" font-weight="normal" text-anchor="middle" style="font-family:'Liberation Serif', serif">T</text>
</svg></body></html>
